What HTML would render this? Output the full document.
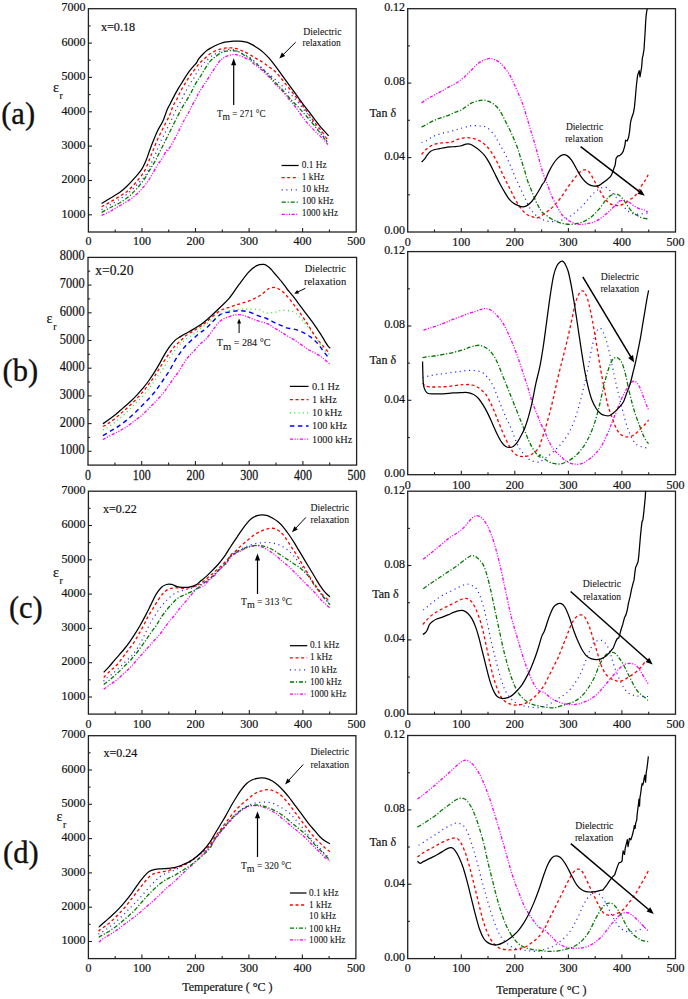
<!DOCTYPE html><html><head><meta charset="utf-8"><style>html,body{margin:0;padding:0;background:#fff;}svg{display:block;}text{font-family:'Liberation Serif', serif;fill:#111;stroke:#111;stroke-width:0.2px;}.tk{font-size:12px;}.lg{font-size:9.3px;stroke-width:0.08px;}.lg2{font-size:10.3px;stroke-width:0.08px;}.an{font-size:10.5px;stroke-width:0.08px;}.pl{font-size:30.5px;stroke-width:0.35px;}</style></head><body>
<svg width="688" height="999" viewBox="0 0 688 999">
<rect x="88.4" y="8.7" width="267.8" height="223.3" fill="none" stroke="#222" stroke-width="1.3"/>
<text x="88.4" y="245.3" text-anchor="middle" class="tk">0</text>
<line x1="115.2" y1="232.0" x2="115.2" y2="229.5" stroke="#222" stroke-width="1.1"/>
<line x1="142.0" y1="232.0" x2="142.0" y2="228.0" stroke="#222" stroke-width="1.1"/>
<text x="142.0" y="245.3" text-anchor="middle" class="tk">100</text>
<line x1="168.7" y1="232.0" x2="168.7" y2="229.5" stroke="#222" stroke-width="1.1"/>
<line x1="195.5" y1="232.0" x2="195.5" y2="228.0" stroke="#222" stroke-width="1.1"/>
<text x="195.5" y="245.3" text-anchor="middle" class="tk">200</text>
<line x1="222.3" y1="232.0" x2="222.3" y2="229.5" stroke="#222" stroke-width="1.1"/>
<line x1="249.1" y1="232.0" x2="249.1" y2="228.0" stroke="#222" stroke-width="1.1"/>
<text x="249.1" y="245.3" text-anchor="middle" class="tk">300</text>
<line x1="275.9" y1="232.0" x2="275.9" y2="229.5" stroke="#222" stroke-width="1.1"/>
<line x1="302.6" y1="232.0" x2="302.6" y2="228.0" stroke="#222" stroke-width="1.1"/>
<text x="302.6" y="245.3" text-anchor="middle" class="tk">400</text>
<line x1="329.4" y1="232.0" x2="329.4" y2="229.5" stroke="#222" stroke-width="1.1"/>
<text x="356.2" y="245.3" text-anchor="middle" class="tk">500</text>
<line x1="88.4" y1="214.8" x2="92.0" y2="214.8" stroke="#222" stroke-width="1.1"/>
<text x="85.6" y="217.5" text-anchor="end" class="tk">1000</text>
<line x1="88.4" y1="197.6" x2="90.6" y2="197.6" stroke="#222" stroke-width="1.1"/>
<line x1="88.4" y1="180.5" x2="92.0" y2="180.5" stroke="#222" stroke-width="1.1"/>
<text x="85.6" y="183.2" text-anchor="end" class="tk">2000</text>
<line x1="88.4" y1="163.3" x2="90.6" y2="163.3" stroke="#222" stroke-width="1.1"/>
<line x1="88.4" y1="146.1" x2="92.0" y2="146.1" stroke="#222" stroke-width="1.1"/>
<text x="85.6" y="148.8" text-anchor="end" class="tk">3000</text>
<line x1="88.4" y1="128.9" x2="90.6" y2="128.9" stroke="#222" stroke-width="1.1"/>
<line x1="88.4" y1="111.8" x2="92.0" y2="111.8" stroke="#222" stroke-width="1.1"/>
<text x="85.6" y="114.5" text-anchor="end" class="tk">4000</text>
<line x1="88.4" y1="94.6" x2="90.6" y2="94.6" stroke="#222" stroke-width="1.1"/>
<line x1="88.4" y1="77.4" x2="92.0" y2="77.4" stroke="#222" stroke-width="1.1"/>
<text x="85.6" y="80.1" text-anchor="end" class="tk">5000</text>
<line x1="88.4" y1="60.2" x2="90.6" y2="60.2" stroke="#222" stroke-width="1.1"/>
<line x1="88.4" y1="43.1" x2="92.0" y2="43.1" stroke="#222" stroke-width="1.1"/>
<text x="85.6" y="45.8" text-anchor="end" class="tk">6000</text>
<line x1="88.4" y1="25.9" x2="90.6" y2="25.9" stroke="#222" stroke-width="1.1"/>
<text x="85.6" y="11.4" text-anchor="end" class="tk">7000</text>
<rect x="88.0" y="257.4" width="268.6" height="207.7" fill="none" stroke="#222" stroke-width="1.3"/>
<text transform="translate(88.0,480.4) scale(1,1.26)" text-anchor="middle" class="tk">0</text>
<line x1="114.9" y1="465.1" x2="114.9" y2="462.6" stroke="#222" stroke-width="1.1"/>
<line x1="141.7" y1="465.1" x2="141.7" y2="461.1" stroke="#222" stroke-width="1.1"/>
<text transform="translate(141.7,480.4) scale(1,1.26)" text-anchor="middle" class="tk">100</text>
<line x1="168.6" y1="465.1" x2="168.6" y2="462.6" stroke="#222" stroke-width="1.1"/>
<line x1="195.4" y1="465.1" x2="195.4" y2="461.1" stroke="#222" stroke-width="1.1"/>
<text transform="translate(195.4,480.4) scale(1,1.26)" text-anchor="middle" class="tk">200</text>
<line x1="222.3" y1="465.1" x2="222.3" y2="462.6" stroke="#222" stroke-width="1.1"/>
<line x1="249.2" y1="465.1" x2="249.2" y2="461.1" stroke="#222" stroke-width="1.1"/>
<text transform="translate(249.2,480.4) scale(1,1.26)" text-anchor="middle" class="tk">300</text>
<line x1="276.0" y1="465.1" x2="276.0" y2="462.6" stroke="#222" stroke-width="1.1"/>
<line x1="302.9" y1="465.1" x2="302.9" y2="461.1" stroke="#222" stroke-width="1.1"/>
<text transform="translate(302.9,480.4) scale(1,1.26)" text-anchor="middle" class="tk">400</text>
<line x1="329.7" y1="465.1" x2="329.7" y2="462.6" stroke="#222" stroke-width="1.1"/>
<text transform="translate(356.6,480.4) scale(1,1.26)" text-anchor="middle" class="tk">500</text>
<line x1="88.0" y1="451.3" x2="91.6" y2="451.3" stroke="#222" stroke-width="1.1"/>
<text transform="translate(84.6,454.3) scale(1,1.2)" text-anchor="end" class="tk" style="font-size:12.4px">1000</text>
<line x1="88.0" y1="437.4" x2="90.2" y2="437.4" stroke="#222" stroke-width="1.1"/>
<line x1="88.0" y1="423.6" x2="91.6" y2="423.6" stroke="#222" stroke-width="1.1"/>
<text transform="translate(84.6,426.6) scale(1,1.2)" text-anchor="end" class="tk" style="font-size:12.4px">2000</text>
<line x1="88.0" y1="409.7" x2="90.2" y2="409.7" stroke="#222" stroke-width="1.1"/>
<line x1="88.0" y1="395.9" x2="91.6" y2="395.9" stroke="#222" stroke-width="1.1"/>
<text transform="translate(84.6,398.9) scale(1,1.2)" text-anchor="end" class="tk" style="font-size:12.4px">3000</text>
<line x1="88.0" y1="382.0" x2="90.2" y2="382.0" stroke="#222" stroke-width="1.1"/>
<line x1="88.0" y1="368.2" x2="91.6" y2="368.2" stroke="#222" stroke-width="1.1"/>
<text transform="translate(84.6,371.2) scale(1,1.2)" text-anchor="end" class="tk" style="font-size:12.4px">4000</text>
<line x1="88.0" y1="354.3" x2="90.2" y2="354.3" stroke="#222" stroke-width="1.1"/>
<line x1="88.0" y1="340.5" x2="91.6" y2="340.5" stroke="#222" stroke-width="1.1"/>
<text transform="translate(84.6,343.5) scale(1,1.2)" text-anchor="end" class="tk" style="font-size:12.4px">5000</text>
<line x1="88.0" y1="326.6" x2="90.2" y2="326.6" stroke="#222" stroke-width="1.1"/>
<line x1="88.0" y1="312.8" x2="91.6" y2="312.8" stroke="#222" stroke-width="1.1"/>
<text transform="translate(84.6,315.8) scale(1,1.2)" text-anchor="end" class="tk" style="font-size:12.4px">6000</text>
<line x1="88.0" y1="298.9" x2="90.2" y2="298.9" stroke="#222" stroke-width="1.1"/>
<line x1="88.0" y1="285.1" x2="91.6" y2="285.1" stroke="#222" stroke-width="1.1"/>
<text transform="translate(84.6,288.1) scale(1,1.2)" text-anchor="end" class="tk" style="font-size:12.4px">7000</text>
<line x1="88.0" y1="271.2" x2="90.2" y2="271.2" stroke="#222" stroke-width="1.1"/>
<text transform="translate(84.6,260.4) scale(1,1.2)" text-anchor="end" class="tk" style="font-size:12.4px">8000</text>
<rect x="88.4" y="491.2" width="268.1" height="222.9" fill="none" stroke="#222" stroke-width="1.3"/>
<text x="88.4" y="728.0" text-anchor="middle" class="tk">0</text>
<line x1="115.2" y1="714.1" x2="115.2" y2="711.6" stroke="#222" stroke-width="1.1"/>
<line x1="142.0" y1="714.1" x2="142.0" y2="710.1" stroke="#222" stroke-width="1.1"/>
<text x="142.0" y="728.0" text-anchor="middle" class="tk">100</text>
<line x1="168.8" y1="714.1" x2="168.8" y2="711.6" stroke="#222" stroke-width="1.1"/>
<line x1="195.6" y1="714.1" x2="195.6" y2="710.1" stroke="#222" stroke-width="1.1"/>
<text x="195.6" y="728.0" text-anchor="middle" class="tk">200</text>
<line x1="222.5" y1="714.1" x2="222.5" y2="711.6" stroke="#222" stroke-width="1.1"/>
<line x1="249.3" y1="714.1" x2="249.3" y2="710.1" stroke="#222" stroke-width="1.1"/>
<text x="249.3" y="728.0" text-anchor="middle" class="tk">300</text>
<line x1="276.1" y1="714.1" x2="276.1" y2="711.6" stroke="#222" stroke-width="1.1"/>
<line x1="302.9" y1="714.1" x2="302.9" y2="710.1" stroke="#222" stroke-width="1.1"/>
<text x="302.9" y="728.0" text-anchor="middle" class="tk">400</text>
<line x1="329.7" y1="714.1" x2="329.7" y2="711.6" stroke="#222" stroke-width="1.1"/>
<text x="356.5" y="728.0" text-anchor="middle" class="tk">500</text>
<line x1="88.4" y1="697.0" x2="92.0" y2="697.0" stroke="#222" stroke-width="1.1"/>
<text x="85.6" y="699.7" text-anchor="end" class="tk">1000</text>
<line x1="88.4" y1="679.8" x2="90.6" y2="679.8" stroke="#222" stroke-width="1.1"/>
<line x1="88.4" y1="662.7" x2="92.0" y2="662.7" stroke="#222" stroke-width="1.1"/>
<text x="85.6" y="665.4" text-anchor="end" class="tk">2000</text>
<line x1="88.4" y1="645.5" x2="90.6" y2="645.5" stroke="#222" stroke-width="1.1"/>
<line x1="88.4" y1="628.4" x2="92.0" y2="628.4" stroke="#222" stroke-width="1.1"/>
<text x="85.6" y="631.1" text-anchor="end" class="tk">3000</text>
<line x1="88.4" y1="611.2" x2="90.6" y2="611.2" stroke="#222" stroke-width="1.1"/>
<line x1="88.4" y1="594.1" x2="92.0" y2="594.1" stroke="#222" stroke-width="1.1"/>
<text x="85.6" y="596.8" text-anchor="end" class="tk">4000</text>
<line x1="88.4" y1="576.9" x2="90.6" y2="576.9" stroke="#222" stroke-width="1.1"/>
<line x1="88.4" y1="559.8" x2="92.0" y2="559.8" stroke="#222" stroke-width="1.1"/>
<text x="85.6" y="562.5" text-anchor="end" class="tk">5000</text>
<line x1="88.4" y1="542.6" x2="90.6" y2="542.6" stroke="#222" stroke-width="1.1"/>
<line x1="88.4" y1="525.5" x2="92.0" y2="525.5" stroke="#222" stroke-width="1.1"/>
<text x="85.6" y="528.2" text-anchor="end" class="tk">6000</text>
<line x1="88.4" y1="508.3" x2="90.6" y2="508.3" stroke="#222" stroke-width="1.1"/>
<text x="85.6" y="493.9" text-anchor="end" class="tk">7000</text>
<rect x="88.4" y="735.7" width="267.5" height="222.9" fill="none" stroke="#222" stroke-width="1.3"/>
<text x="88.4" y="972.4" text-anchor="middle" class="tk">0</text>
<line x1="115.2" y1="958.6" x2="115.2" y2="956.1" stroke="#222" stroke-width="1.1"/>
<line x1="141.9" y1="958.6" x2="141.9" y2="954.6" stroke="#222" stroke-width="1.1"/>
<text x="141.9" y="972.4" text-anchor="middle" class="tk">100</text>
<line x1="168.7" y1="958.6" x2="168.7" y2="956.1" stroke="#222" stroke-width="1.1"/>
<line x1="195.4" y1="958.6" x2="195.4" y2="954.6" stroke="#222" stroke-width="1.1"/>
<text x="195.4" y="972.4" text-anchor="middle" class="tk">200</text>
<line x1="222.2" y1="958.6" x2="222.2" y2="956.1" stroke="#222" stroke-width="1.1"/>
<line x1="248.9" y1="958.6" x2="248.9" y2="954.6" stroke="#222" stroke-width="1.1"/>
<text x="248.9" y="972.4" text-anchor="middle" class="tk">300</text>
<line x1="275.6" y1="958.6" x2="275.6" y2="956.1" stroke="#222" stroke-width="1.1"/>
<line x1="302.4" y1="958.6" x2="302.4" y2="954.6" stroke="#222" stroke-width="1.1"/>
<text x="302.4" y="972.4" text-anchor="middle" class="tk">400</text>
<line x1="329.1" y1="958.6" x2="329.1" y2="956.1" stroke="#222" stroke-width="1.1"/>
<text x="355.9" y="972.4" text-anchor="middle" class="tk">500</text>
<line x1="88.4" y1="941.5" x2="92.0" y2="941.5" stroke="#222" stroke-width="1.1"/>
<text x="85.6" y="944.2" text-anchor="end" class="tk">1000</text>
<line x1="88.4" y1="924.3" x2="90.6" y2="924.3" stroke="#222" stroke-width="1.1"/>
<line x1="88.4" y1="907.2" x2="92.0" y2="907.2" stroke="#222" stroke-width="1.1"/>
<text x="85.6" y="909.9" text-anchor="end" class="tk">2000</text>
<line x1="88.4" y1="890.0" x2="90.6" y2="890.0" stroke="#222" stroke-width="1.1"/>
<line x1="88.4" y1="872.9" x2="92.0" y2="872.9" stroke="#222" stroke-width="1.1"/>
<text x="85.6" y="875.6" text-anchor="end" class="tk">3000</text>
<line x1="88.4" y1="855.7" x2="90.6" y2="855.7" stroke="#222" stroke-width="1.1"/>
<line x1="88.4" y1="838.6" x2="92.0" y2="838.6" stroke="#222" stroke-width="1.1"/>
<text x="85.6" y="841.3" text-anchor="end" class="tk">4000</text>
<line x1="88.4" y1="821.4" x2="90.6" y2="821.4" stroke="#222" stroke-width="1.1"/>
<line x1="88.4" y1="804.3" x2="92.0" y2="804.3" stroke="#222" stroke-width="1.1"/>
<text x="85.6" y="807.0" text-anchor="end" class="tk">5000</text>
<line x1="88.4" y1="787.1" x2="90.6" y2="787.1" stroke="#222" stroke-width="1.1"/>
<line x1="88.4" y1="770.0" x2="92.0" y2="770.0" stroke="#222" stroke-width="1.1"/>
<text x="85.6" y="772.7" text-anchor="end" class="tk">6000</text>
<line x1="88.4" y1="752.8" x2="90.6" y2="752.8" stroke="#222" stroke-width="1.1"/>
<text x="85.6" y="738.4" text-anchor="end" class="tk">7000</text>
<rect x="407.7" y="8.7" width="267.8" height="223.3" fill="none" stroke="#222" stroke-width="1.3"/>
<text x="407.7" y="245.6" text-anchor="middle" class="tk">0</text>
<line x1="434.5" y1="232.0" x2="434.5" y2="229.5" stroke="#222" stroke-width="1.1"/>
<line x1="461.3" y1="232.0" x2="461.3" y2="228.0" stroke="#222" stroke-width="1.1"/>
<text x="461.3" y="245.6" text-anchor="middle" class="tk">100</text>
<line x1="488.0" y1="232.0" x2="488.0" y2="229.5" stroke="#222" stroke-width="1.1"/>
<line x1="514.8" y1="232.0" x2="514.8" y2="228.0" stroke="#222" stroke-width="1.1"/>
<text x="514.8" y="245.6" text-anchor="middle" class="tk">200</text>
<line x1="541.6" y1="232.0" x2="541.6" y2="229.5" stroke="#222" stroke-width="1.1"/>
<line x1="568.4" y1="232.0" x2="568.4" y2="228.0" stroke="#222" stroke-width="1.1"/>
<text x="568.4" y="245.6" text-anchor="middle" class="tk">300</text>
<line x1="595.2" y1="232.0" x2="595.2" y2="229.5" stroke="#222" stroke-width="1.1"/>
<line x1="621.9" y1="232.0" x2="621.9" y2="228.0" stroke="#222" stroke-width="1.1"/>
<text x="621.9" y="245.6" text-anchor="middle" class="tk">400</text>
<line x1="648.7" y1="232.0" x2="648.7" y2="229.5" stroke="#222" stroke-width="1.1"/>
<text x="675.5" y="245.6" text-anchor="middle" class="tk">500</text>
<text transform="translate(405.1,234.3) scale(1,1.08)" text-anchor="end" class="tk">0.00</text>
<line x1="407.7" y1="194.8" x2="409.9" y2="194.8" stroke="#222" stroke-width="1.1"/>
<line x1="407.7" y1="157.6" x2="411.3" y2="157.6" stroke="#222" stroke-width="1.1"/>
<text transform="translate(405.1,159.9) scale(1,1.08)" text-anchor="end" class="tk">0.04</text>
<line x1="407.7" y1="120.3" x2="409.9" y2="120.3" stroke="#222" stroke-width="1.1"/>
<line x1="407.7" y1="83.1" x2="411.3" y2="83.1" stroke="#222" stroke-width="1.1"/>
<text transform="translate(405.1,85.4) scale(1,1.08)" text-anchor="end" class="tk">0.08</text>
<line x1="407.7" y1="45.9" x2="409.9" y2="45.9" stroke="#222" stroke-width="1.1"/>
<text transform="translate(405.1,11.0) scale(1,1.08)" text-anchor="end" class="tk">0.12</text>
<rect x="407.7" y="251.6" width="267.8" height="223.1" fill="none" stroke="#222" stroke-width="1.3"/>
<text x="407.7" y="488.5" text-anchor="middle" class="tk">0</text>
<line x1="434.5" y1="474.7" x2="434.5" y2="472.2" stroke="#222" stroke-width="1.1"/>
<line x1="461.3" y1="474.7" x2="461.3" y2="470.7" stroke="#222" stroke-width="1.1"/>
<text x="461.3" y="488.5" text-anchor="middle" class="tk">100</text>
<line x1="488.0" y1="474.7" x2="488.0" y2="472.2" stroke="#222" stroke-width="1.1"/>
<line x1="514.8" y1="474.7" x2="514.8" y2="470.7" stroke="#222" stroke-width="1.1"/>
<text x="514.8" y="488.5" text-anchor="middle" class="tk">200</text>
<line x1="541.6" y1="474.7" x2="541.6" y2="472.2" stroke="#222" stroke-width="1.1"/>
<line x1="568.4" y1="474.7" x2="568.4" y2="470.7" stroke="#222" stroke-width="1.1"/>
<text x="568.4" y="488.5" text-anchor="middle" class="tk">300</text>
<line x1="595.2" y1="474.7" x2="595.2" y2="472.2" stroke="#222" stroke-width="1.1"/>
<line x1="621.9" y1="474.7" x2="621.9" y2="470.7" stroke="#222" stroke-width="1.1"/>
<text x="621.9" y="488.5" text-anchor="middle" class="tk">400</text>
<line x1="648.7" y1="474.7" x2="648.7" y2="472.2" stroke="#222" stroke-width="1.1"/>
<text x="675.5" y="488.5" text-anchor="middle" class="tk">500</text>
<text transform="translate(405.1,477.0) scale(1,1.08)" text-anchor="end" class="tk">0.00</text>
<line x1="407.7" y1="437.5" x2="409.9" y2="437.5" stroke="#222" stroke-width="1.1"/>
<line x1="407.7" y1="400.3" x2="411.3" y2="400.3" stroke="#222" stroke-width="1.1"/>
<text transform="translate(405.1,402.6) scale(1,1.08)" text-anchor="end" class="tk">0.04</text>
<line x1="407.7" y1="363.1" x2="409.9" y2="363.1" stroke="#222" stroke-width="1.1"/>
<line x1="407.7" y1="326.0" x2="411.3" y2="326.0" stroke="#222" stroke-width="1.1"/>
<text transform="translate(405.1,328.3) scale(1,1.08)" text-anchor="end" class="tk">0.08</text>
<line x1="407.7" y1="288.8" x2="409.9" y2="288.8" stroke="#222" stroke-width="1.1"/>
<text transform="translate(405.1,253.9) scale(1,1.08)" text-anchor="end" class="tk">0.12</text>
<rect x="407.7" y="491.2" width="267.8" height="223.0" fill="none" stroke="#222" stroke-width="1.3"/>
<text x="407.7" y="728.3" text-anchor="middle" class="tk">0</text>
<line x1="434.5" y1="714.2" x2="434.5" y2="711.7" stroke="#222" stroke-width="1.1"/>
<line x1="461.3" y1="714.2" x2="461.3" y2="710.2" stroke="#222" stroke-width="1.1"/>
<text x="461.3" y="728.3" text-anchor="middle" class="tk">100</text>
<line x1="488.0" y1="714.2" x2="488.0" y2="711.7" stroke="#222" stroke-width="1.1"/>
<line x1="514.8" y1="714.2" x2="514.8" y2="710.2" stroke="#222" stroke-width="1.1"/>
<text x="514.8" y="728.3" text-anchor="middle" class="tk">200</text>
<line x1="541.6" y1="714.2" x2="541.6" y2="711.7" stroke="#222" stroke-width="1.1"/>
<line x1="568.4" y1="714.2" x2="568.4" y2="710.2" stroke="#222" stroke-width="1.1"/>
<text x="568.4" y="728.3" text-anchor="middle" class="tk">300</text>
<line x1="595.2" y1="714.2" x2="595.2" y2="711.7" stroke="#222" stroke-width="1.1"/>
<line x1="621.9" y1="714.2" x2="621.9" y2="710.2" stroke="#222" stroke-width="1.1"/>
<text x="621.9" y="728.3" text-anchor="middle" class="tk">400</text>
<line x1="648.7" y1="714.2" x2="648.7" y2="711.7" stroke="#222" stroke-width="1.1"/>
<text x="675.5" y="728.3" text-anchor="middle" class="tk">500</text>
<text transform="translate(405.1,716.5) scale(1,1.08)" text-anchor="end" class="tk">0.00</text>
<line x1="407.7" y1="677.0" x2="409.9" y2="677.0" stroke="#222" stroke-width="1.1"/>
<line x1="407.7" y1="639.9" x2="411.3" y2="639.9" stroke="#222" stroke-width="1.1"/>
<text transform="translate(405.1,642.2) scale(1,1.08)" text-anchor="end" class="tk">0.04</text>
<line x1="407.7" y1="602.7" x2="409.9" y2="602.7" stroke="#222" stroke-width="1.1"/>
<line x1="407.7" y1="565.5" x2="411.3" y2="565.5" stroke="#222" stroke-width="1.1"/>
<text transform="translate(405.1,567.8) scale(1,1.08)" text-anchor="end" class="tk">0.08</text>
<line x1="407.7" y1="528.4" x2="409.9" y2="528.4" stroke="#222" stroke-width="1.1"/>
<text transform="translate(405.1,493.5) scale(1,1.08)" text-anchor="end" class="tk">0.12</text>
<rect x="407.7" y="735.5" width="267.8" height="223.1" fill="none" stroke="#222" stroke-width="1.3"/>
<text x="407.7" y="972.4" text-anchor="middle" class="tk">0</text>
<line x1="434.5" y1="958.6" x2="434.5" y2="956.1" stroke="#222" stroke-width="1.1"/>
<line x1="461.3" y1="958.6" x2="461.3" y2="954.6" stroke="#222" stroke-width="1.1"/>
<text x="461.3" y="972.4" text-anchor="middle" class="tk">100</text>
<line x1="488.0" y1="958.6" x2="488.0" y2="956.1" stroke="#222" stroke-width="1.1"/>
<line x1="514.8" y1="958.6" x2="514.8" y2="954.6" stroke="#222" stroke-width="1.1"/>
<text x="514.8" y="972.4" text-anchor="middle" class="tk">200</text>
<line x1="541.6" y1="958.6" x2="541.6" y2="956.1" stroke="#222" stroke-width="1.1"/>
<line x1="568.4" y1="958.6" x2="568.4" y2="954.6" stroke="#222" stroke-width="1.1"/>
<text x="568.4" y="972.4" text-anchor="middle" class="tk">300</text>
<line x1="595.2" y1="958.6" x2="595.2" y2="956.1" stroke="#222" stroke-width="1.1"/>
<line x1="621.9" y1="958.6" x2="621.9" y2="954.6" stroke="#222" stroke-width="1.1"/>
<text x="621.9" y="972.4" text-anchor="middle" class="tk">400</text>
<line x1="648.7" y1="958.6" x2="648.7" y2="956.1" stroke="#222" stroke-width="1.1"/>
<text x="675.5" y="972.4" text-anchor="middle" class="tk">500</text>
<text transform="translate(405.1,960.9) scale(1,1.08)" text-anchor="end" class="tk">0.00</text>
<line x1="407.7" y1="921.4" x2="409.9" y2="921.4" stroke="#222" stroke-width="1.1"/>
<line x1="407.7" y1="884.2" x2="411.3" y2="884.2" stroke="#222" stroke-width="1.1"/>
<text transform="translate(405.1,886.5) scale(1,1.08)" text-anchor="end" class="tk">0.04</text>
<line x1="407.7" y1="847.0" x2="409.9" y2="847.0" stroke="#222" stroke-width="1.1"/>
<line x1="407.7" y1="809.9" x2="411.3" y2="809.9" stroke="#222" stroke-width="1.1"/>
<text transform="translate(405.1,812.2) scale(1,1.08)" text-anchor="end" class="tk">0.08</text>
<line x1="407.7" y1="772.7" x2="409.9" y2="772.7" stroke="#222" stroke-width="1.1"/>
<text transform="translate(405.1,737.8) scale(1,1.08)" text-anchor="end" class="tk">0.12</text>
<text x="1.2" y="124.2" class="pl">(a)</text>
<text x="2.5" y="381.2" class="pl">(b)</text>
<text x="8.9" y="618.2" class="pl">(c)</text>
<text x="3.1" y="863.2" class="pl">(d)</text>
<text x="53" y="91.5" style="font-size:14px">&#949;</text>
<text x="59.6" y="98.5" style="font-size:9.5px">r</text>
<text x="46.6" y="322.5" style="font-size:14px">&#949;</text>
<text x="53.2" y="329.5" style="font-size:9.5px">r</text>
<text x="52.9" y="576.5" style="font-size:14px">&#949;</text>
<text x="59.5" y="583.5" style="font-size:9.5px">r</text>
<text x="56.4" y="820.5" style="font-size:14px">&#949;</text>
<text x="63.0" y="827.5" style="font-size:9.5px">r</text>
<text x="369.6" y="116.8" class="tk">Tan &#948;</text>
<text x="369.6" y="363.9" class="tk">Tan &#948;</text>
<text x="372.2" y="597.9" class="tk">Tan &#948;</text>
<text x="369.6" y="845.8" class="tk">Tan &#948;</text>
<text x="100.9" y="30.6" style="font-size:12.2px">x=0.18</text>
<text transform="translate(95.2,275.2) scale(1,1.15)" style="font-size:13.6px">x=0.20</text>
<text x="103" y="512.8" style="font-size:12px">x=0.22</text>
<text x="103.6" y="757.3" style="font-size:12px">x=0.24</text>
<text x="227.4" y="991" text-anchor="middle" class="tk">Temperature ( &#176;C )</text>
<text x="541.5" y="994" text-anchor="middle" class="tk">Temperature ( &#176;C )</text>
<path d="M101.61,215.27 C103.03,214.64 107.13,213.06 110.12,211.49 C113.11,209.91 116.42,207.71 119.57,205.82 C122.71,203.93 125.86,202.36 129.01,200.15 C132.16,197.95 135.31,195.74 138.46,192.59 C141.61,189.44 145.39,184.72 147.91,181.25 C150.43,177.79 152.00,174.48 153.58,171.81 C155.15,169.13 155.94,167.40 157.36,165.19 C158.78,162.99 160.51,161.10 162.08,158.58 C163.66,156.06 165.76,151.51 166.81,150.08 C167.85,148.65 166.75,152.39 168.34,150.00 C169.93,147.61 173.79,140.55 176.34,135.76 C178.88,130.96 181.42,125.34 183.60,121.22 C185.78,117.10 187.97,113.76 189.42,111.05 C190.87,108.33 191.39,106.67 192.31,104.93 C193.23,103.18 194.05,102.17 194.93,100.57 C195.80,98.97 196.70,96.93 197.54,95.34 C198.38,93.74 196.44,96.49 199.98,90.98 C203.52,85.46 215.06,67.55 218.77,62.26 C222.48,56.96 221.10,60.15 222.26,59.21 C223.42,58.26 224.58,57.24 225.75,56.59 C226.91,55.94 227.93,55.65 229.23,55.28 C230.54,54.92 232.28,54.48 233.59,54.41 C234.90,54.34 235.63,54.48 237.08,54.85 C238.53,55.21 240.71,55.94 242.31,56.59 C243.91,57.24 245.39,58.19 246.67,58.77 C247.95,59.35 248.91,59.33 249.98,60.08 C251.05,60.83 251.60,62.00 253.08,63.26 C254.57,64.51 256.96,66.04 258.90,67.62 C260.83,69.19 262.77,70.89 264.71,72.70 C266.65,74.52 268.59,76.46 270.52,78.52 C272.46,80.58 274.40,83.00 276.34,85.06 C278.28,87.12 280.21,88.69 282.15,90.87 C284.09,93.05 286.03,95.84 287.97,98.14 C289.90,100.44 291.84,102.26 293.78,104.68 C295.72,107.10 297.66,110.01 299.59,112.67 C301.53,115.34 303.47,118.25 305.41,120.67 C307.34,123.09 309.28,125.15 311.22,127.21 C313.16,129.27 315.10,131.09 317.03,133.02 C318.97,134.96 321.03,136.90 322.85,138.84 C324.67,140.78 327.09,143.68 327.94,144.65" fill="none" stroke="#ff00ff" stroke-width="1.3" stroke-dasharray="3.2 1.5 1.1 1.5 1.1 1.5"/>
<path d="M101.61,212.43 C103.03,211.65 107.13,209.28 110.12,207.71 C113.11,206.14 116.42,204.88 119.57,202.99 C122.71,201.10 126.18,198.73 129.01,196.37 C131.85,194.01 134.05,191.65 136.57,188.81 C139.09,185.98 141.93,182.51 144.13,179.37 C146.34,176.22 147.91,173.07 149.80,169.92 C151.69,166.77 153.58,163.93 155.47,160.47 C157.36,157.00 159.25,152.91 161.14,149.13 C163.03,145.35 164.92,141.57 166.81,137.79 C168.70,134.01 170.59,130.23 172.48,126.46 C174.37,122.68 176.44,118.41 178.14,115.12 C179.85,111.82 181.23,109.24 182.72,106.67 C184.21,104.10 185.63,102.17 187.08,99.69 C188.53,97.22 190.13,94.32 191.44,91.85 C192.75,89.38 193.91,86.76 194.93,84.87 C195.94,82.98 196.70,81.82 197.54,80.51 C198.38,79.21 198.19,79.85 199.98,77.03 C201.78,74.20 206.41,66.39 208.31,63.57 C210.20,60.74 210.34,61.10 211.36,60.08 C212.38,59.06 212.89,58.63 214.41,57.46 C215.94,56.30 218.77,54.12 220.51,53.10 C222.26,52.09 223.42,51.75 224.87,51.36 C226.33,50.97 227.78,50.85 229.23,50.75 C230.69,50.65 232.28,50.69 233.59,50.75 C234.90,50.81 235.92,50.75 237.08,51.10 C238.24,51.45 239.11,52.00 240.57,52.84 C242.02,53.68 244.23,55.24 245.80,56.16 C247.37,57.07 249.01,57.64 249.98,58.33 C250.95,59.03 250.38,59.29 251.63,60.35 C252.87,61.41 255.50,63.13 257.44,64.71 C259.38,66.28 261.32,67.98 263.26,69.80 C265.19,71.61 267.13,73.55 269.07,75.61 C271.01,77.67 272.95,80.09 274.88,82.15 C276.82,84.21 278.76,85.91 280.70,87.97 C282.64,90.02 284.57,92.33 286.51,94.51 C288.45,96.69 290.39,98.99 292.33,101.05 C294.26,103.11 296.20,104.80 298.14,106.86 C300.08,108.92 302.02,111.22 303.95,113.40 C305.89,115.58 307.83,117.64 309.77,119.94 C311.71,122.24 313.64,124.79 315.58,127.21 C317.52,129.63 319.34,131.81 321.40,134.48 C323.45,137.14 326.85,141.74 327.94,143.20" fill="none" stroke="#007a00" stroke-width="1.3" stroke-dasharray="4.2 1.8 1.2 1.8"/>
<path d="M101.61,209.60 C103.03,208.81 107.13,206.61 110.12,204.88 C113.11,203.14 116.42,201.25 119.57,199.21 C122.71,197.16 125.86,195.27 129.01,192.59 C132.16,189.92 135.63,186.14 138.46,183.14 C141.30,180.15 143.97,177.79 146.02,174.64 C148.07,171.49 149.17,167.71 150.74,164.25 C152.32,160.78 153.89,157.48 155.47,153.85 C157.04,150.23 158.46,146.30 160.19,142.52 C161.92,138.74 163.97,134.96 165.86,131.18 C167.75,127.40 169.81,123.49 171.53,119.84 C173.25,116.19 175.04,111.70 176.18,109.29 C177.32,106.87 177.63,106.60 178.36,105.36 C179.09,104.13 179.81,103.18 180.54,101.87 C181.27,100.57 182.07,98.90 182.72,97.52 C183.37,96.13 183.16,95.99 184.46,93.59 C185.77,91.19 189.19,85.38 190.57,83.13 C191.95,80.88 192.02,81.24 192.75,80.08 C193.47,78.92 194.27,77.32 194.93,76.16 C195.58,74.99 196.09,74.09 196.67,73.10 C197.25,72.12 197.27,71.82 198.41,70.23 C199.55,68.64 202.23,65.11 203.51,63.57 C204.80,62.02 204.89,62.11 206.13,60.95 C207.36,59.79 209.40,57.75 210.92,56.59 C212.45,55.43 213.68,54.85 215.28,53.98 C216.88,53.10 218.92,52.04 220.51,51.36 C222.11,50.68 223.13,50.21 224.87,49.88 C226.62,49.54 228.94,49.18 230.98,49.35 C233.01,49.53 234.90,50.08 237.08,50.92 C239.26,51.77 242.31,53.54 244.05,54.41 C245.80,55.28 246.28,55.41 247.54,56.16 C248.80,56.90 249.98,57.59 251.63,58.90 C253.28,60.20 255.50,62.29 257.44,63.98 C259.38,65.68 261.32,67.37 263.26,69.07 C265.19,70.77 267.13,72.46 269.07,74.16 C271.01,75.85 272.95,77.55 274.88,79.24 C276.82,80.94 278.76,82.51 280.70,84.33 C282.64,86.15 284.57,88.21 286.51,90.15 C288.45,92.08 290.39,93.90 292.33,95.96 C294.26,98.02 296.20,100.20 298.14,102.50 C300.08,104.80 302.02,107.34 303.95,109.77 C305.89,112.19 307.83,114.37 309.77,117.03 C311.71,119.70 313.64,123.09 315.58,125.76 C317.52,128.42 319.34,130.24 321.40,133.02 C323.45,135.81 326.85,140.90 327.94,142.47" fill="none" stroke="#2020ff" stroke-width="1.2" stroke-dasharray="1.1 3.6"/>
<path d="M101.61,206.76 C103.03,205.98 107.13,203.77 110.12,202.04 C113.11,200.31 116.42,198.42 119.57,196.37 C122.71,194.32 125.86,192.59 129.01,189.76 C132.16,186.92 135.78,182.67 138.46,179.37 C141.14,176.06 143.19,173.38 145.08,169.92 C146.97,166.45 148.38,162.04 149.80,158.58 C151.22,155.11 152.16,152.60 153.58,149.13 C155.00,145.67 156.57,141.57 158.30,137.79 C160.04,134.01 162.08,130.23 163.97,126.46 C165.86,122.68 168.11,118.56 169.64,115.12 C171.17,111.67 171.97,108.37 173.13,105.80 C174.29,103.23 175.60,101.66 176.62,99.69 C177.63,97.73 178.22,96.06 179.23,94.03 C180.25,91.99 181.56,89.52 182.72,87.49 C183.88,85.45 185.05,83.71 186.21,81.82 C187.37,79.93 188.46,77.97 189.69,76.16 C190.93,74.34 192.38,72.60 193.62,70.92 C194.85,69.25 195.96,67.57 197.11,66.13 C198.25,64.68 199.18,63.56 200.46,62.26 C201.75,60.96 203.37,59.64 204.82,58.33 C206.27,57.03 207.73,55.50 209.18,54.41 C210.63,53.32 211.94,52.60 213.54,51.80 C215.14,51.00 216.88,50.23 218.77,49.62 C220.66,49.01 222.84,48.42 224.87,48.13 C226.91,47.84 228.94,47.77 230.98,47.87 C233.01,47.97 235.19,48.24 237.08,48.74 C238.97,49.25 240.71,50.24 242.31,50.92 C243.91,51.61 244.63,51.76 246.67,52.84 C248.71,53.93 252.01,55.95 254.53,57.44 C257.06,58.94 259.38,60.23 261.80,61.80 C264.22,63.38 266.89,65.31 269.07,66.89 C271.25,68.46 272.95,69.43 274.88,71.25 C276.82,73.07 278.76,75.49 280.70,77.79 C282.64,80.09 284.57,82.64 286.51,85.06 C288.45,87.48 290.39,89.90 292.33,92.33 C294.26,94.75 296.20,97.05 298.14,99.59 C300.08,102.14 302.02,104.92 303.95,107.59 C305.89,110.25 307.83,112.92 309.77,115.58 C311.71,118.25 313.64,121.03 315.58,123.58 C317.52,126.12 319.34,128.06 321.40,130.84 C323.45,133.63 326.85,138.72 327.94,140.29" fill="none" stroke="#ff0000" stroke-width="1.3" stroke-dasharray="3 2.6"/>
<path d="M101.61,203.55 C103.03,202.67 107.13,200.09 110.12,198.26 C113.11,196.43 116.73,194.64 119.57,192.59 C122.40,190.55 124.60,188.44 127.12,185.98 C129.64,183.52 132.32,180.53 134.68,177.85 C137.04,175.18 139.41,172.81 141.30,169.92 C143.19,167.02 144.60,163.78 146.02,160.47 C147.44,157.16 148.70,153.07 149.80,150.08 C150.90,147.08 151.37,145.67 152.63,142.52 C153.89,139.37 155.63,134.80 157.36,131.18 C159.09,127.56 161.42,124.32 163.03,120.79 C164.64,117.25 165.78,112.92 167.03,109.98 C168.27,107.05 169.28,105.62 170.51,103.18 C171.75,100.74 173.13,97.81 174.44,95.34 C175.75,92.87 176.98,90.69 178.36,88.36 C179.74,86.04 181.12,83.93 182.72,81.39 C184.32,78.84 186.21,75.57 187.95,73.10 C189.69,70.63 191.73,68.31 193.18,66.56 C194.64,64.82 195.75,63.94 196.67,62.64 C197.59,61.34 197.65,60.22 198.72,58.77 C199.79,57.33 201.62,55.43 203.08,53.98 C204.53,52.52 205.98,51.14 207.44,50.05 C208.89,48.96 210.34,48.24 211.80,47.44 C213.25,46.64 214.70,45.91 216.16,45.26 C217.61,44.60 219.06,44.02 220.51,43.51 C221.97,43.00 223.42,42.54 224.87,42.21 C226.33,41.87 227.78,41.68 229.23,41.51 C230.69,41.33 232.14,41.22 233.59,41.16 C235.05,41.10 236.50,41.13 237.95,41.16 C239.40,41.19 240.86,41.16 242.31,41.33 C243.76,41.51 245.12,41.70 246.67,42.21 C248.22,42.71 249.83,43.40 251.63,44.36 C253.42,45.33 255.50,46.66 257.44,47.99 C259.38,49.33 261.32,50.66 263.26,52.35 C265.19,54.05 267.13,55.99 269.07,58.17 C271.01,60.35 272.95,62.89 274.88,65.44 C276.82,67.98 278.76,70.77 280.70,73.43 C282.64,76.09 284.57,78.76 286.51,81.42 C288.45,84.09 290.39,86.75 292.33,89.42 C294.26,92.08 296.20,94.75 298.14,97.41 C300.08,100.08 302.02,102.86 303.95,105.41 C305.89,107.95 307.83,110.13 309.77,112.67 C311.71,115.22 313.64,118.12 315.58,120.67 C317.52,123.21 319.22,125.39 321.40,127.94 C323.58,130.48 327.45,134.60 328.66,135.93" fill="none" stroke="#000" stroke-width="1.25"/>
<line x1="281.6" y1="165.5" x2="298.6" y2="165.5" stroke="#000" stroke-width="1.25"/>
<text x="301.8" y="167.6" class="lg">0.1 Hz</text>
<line x1="281.6" y1="177.7" x2="298.6" y2="177.7" stroke="#ff0000" stroke-width="1.3" stroke-dasharray="3 2.6"/>
<text x="301.8" y="179.8" class="lg">1 kHz</text>
<line x1="281.6" y1="189.9" x2="298.6" y2="189.9" stroke="#2020ff" stroke-width="1.2" stroke-dasharray="1.1 3.6"/>
<text x="301.8" y="192.0" class="lg">10 kHz</text>
<line x1="281.6" y1="202.1" x2="298.6" y2="202.1" stroke="#007a00" stroke-width="1.3" stroke-dasharray="4.2 1.8 1.2 1.8"/>
<text x="301.8" y="204.2" class="lg">100 kHz</text>
<line x1="281.6" y1="214.3" x2="298.6" y2="214.3" stroke="#ff00ff" stroke-width="1.3" stroke-dasharray="3.2 1.5 1.1 1.5 1.1 1.5"/>
<text x="301.8" y="216.4" class="lg">1000 kHz</text>
<line x1="233.7" y1="105.0" x2="233.7" y2="64.3" stroke="#000" stroke-width="1.2"/>
<path d="M233.7,58.3 L236.3,65.3 L231.1,65.3 Z" fill="#000"/>
<text x="217" y="116.5" class="an" textLength="48.6" lengthAdjust="spacingAndGlyphs">T<tspan dy="3.6" style="font-size:11px">m</tspan><tspan dy="-3.6"> = 271 &#176;C</tspan></text>
<text x="303.3" y="34.5" class="an" textLength="38.3" lengthAdjust="spacingAndGlyphs">Dielectric</text>
<text x="302.5" y="46" class="an" textLength="38.3" lengthAdjust="spacingAndGlyphs">relaxation</text>
<line x1="295.7" y1="42.2" x2="282.8" y2="55.0" stroke="#000" stroke-width="1.0"/>
<path d="M279.3,58.5 L281.9,52.6 L285.2,55.9 Z" fill="#000"/>
<path d="M421.61,102.91 C422.40,102.37 424.61,100.80 426.34,99.70 C428.07,98.60 430.12,97.40 432.01,96.30 C433.90,95.19 435.79,94.09 437.68,93.08 C439.57,92.08 441.46,91.29 443.34,90.25 C445.23,89.21 447.12,87.89 449.01,86.85 C450.90,85.81 452.79,85.12 454.68,84.01 C456.57,82.91 458.62,81.49 460.35,80.23 C462.08,78.97 463.50,77.87 465.08,76.46 C466.65,75.04 468.07,73.46 469.80,71.73 C471.53,70.00 473.58,67.79 475.47,66.06 C477.36,64.33 479.25,62.50 481.14,61.34 C483.03,60.17 485.23,59.54 486.81,59.07 C488.38,58.60 489.17,58.38 490.59,58.50 C492.00,58.63 493.74,59.10 495.31,59.83 C496.88,60.55 498.46,61.50 500.03,62.85 C501.61,64.20 503.18,66.00 504.76,67.95 C506.33,69.90 508.07,72.20 509.48,74.57 C510.90,76.93 512.00,79.45 513.26,82.12 C514.52,84.80 515.78,87.79 517.04,90.63 C518.30,93.46 519.72,96.45 520.82,99.13 C521.92,101.81 522.71,103.85 523.65,106.69 C524.60,109.52 525.54,112.99 526.49,116.14 C527.43,119.29 528.38,122.44 529.32,125.59 C530.27,128.74 531.21,131.88 532.16,135.03 C533.10,138.18 534.05,141.18 534.99,144.48 C535.94,147.79 536.88,151.41 537.83,154.88 C538.77,158.34 539.72,161.96 540.66,165.27 C541.61,168.58 542.48,171.82 543.50,174.72 C544.51,177.61 545.46,179.24 546.76,182.63 C548.05,186.01 549.58,191.08 551.27,195.02 C552.96,198.96 555.02,202.91 556.90,206.29 C558.78,209.67 560.47,212.86 562.53,215.30 C564.60,217.74 567.04,219.51 569.29,220.93 C571.55,222.36 573.80,223.30 576.05,223.86 C578.31,224.43 580.56,224.43 582.81,224.31 C585.07,224.20 587.32,223.75 589.57,223.19 C591.83,222.62 594.08,222.06 596.33,220.93 C598.58,219.81 600.84,218.12 603.09,216.43 C605.34,214.74 607.60,212.86 609.85,210.79 C612.10,208.73 614.73,205.72 616.61,204.03 C618.49,202.34 619.62,201.22 621.12,200.65 C622.62,200.09 624.12,200.28 625.62,200.65 C627.13,201.03 628.63,201.97 630.13,202.91 C631.63,203.85 633.14,205.35 634.64,206.29 C636.14,207.23 637.64,207.98 639.14,208.54 C640.65,209.10 642.22,209.10 643.65,209.67 C645.08,210.23 647.03,211.55 647.71,211.92" fill="none" stroke="#ff00ff" stroke-width="1.3" stroke-dasharray="3.2 1.5 1.1 1.5 1.1 1.5"/>
<path d="M421.61,127.10 C422.40,126.69 424.61,125.59 426.34,124.64 C428.07,123.70 430.12,122.37 432.01,121.43 C433.90,120.48 435.79,119.70 437.68,118.97 C439.57,118.25 441.46,117.71 443.34,117.08 C445.23,116.45 447.12,115.98 449.01,115.19 C450.90,114.41 452.79,113.15 454.68,112.36 C456.57,111.57 458.46,111.41 460.35,110.47 C462.24,109.52 464.13,107.95 466.02,106.69 C467.91,105.43 469.80,103.85 471.69,102.91 C473.58,101.97 475.47,101.49 477.36,101.02 C479.25,100.55 481.14,100.01 483.03,100.08 C484.92,100.14 486.81,100.61 488.70,101.40 C490.59,102.19 492.63,103.45 494.37,104.80 C496.10,106.15 497.67,107.63 499.09,109.52 C500.51,111.41 501.61,113.78 502.87,116.14 C504.13,118.50 505.39,121.18 506.65,123.70 C507.91,126.22 509.17,128.58 510.43,131.25 C511.69,133.93 512.95,136.77 514.21,139.76 C515.47,142.75 516.88,146.06 517.99,149.21 C519.09,152.36 519.78,155.35 520.82,158.65 C521.86,161.96 523.12,165.43 524.22,169.05 C525.32,172.67 526.27,176.92 527.43,180.39 C528.60,183.85 529.95,186.68 531.21,189.83 C532.47,192.98 533.73,196.45 534.99,199.28 C536.25,202.12 537.51,204.64 538.77,206.84 C540.03,209.05 540.47,210.54 542.55,212.51 C544.63,214.48 548.69,217.09 551.27,218.68 C553.85,220.27 555.77,221.20 558.03,222.06 C560.28,222.92 562.53,223.49 564.79,223.86 C567.04,224.24 569.29,224.43 571.55,224.31 C573.80,224.20 576.05,223.75 578.31,223.19 C580.56,222.62 582.81,222.06 585.07,220.93 C587.32,219.81 589.57,218.30 591.83,216.43 C594.08,214.55 596.33,212.30 598.58,209.67 C600.84,207.04 603.47,202.91 605.34,200.65 C607.22,198.40 608.35,197.24 609.85,196.15 C611.35,195.06 612.86,194.31 614.36,194.12 C615.86,193.93 617.36,194.12 618.86,195.02 C620.37,195.92 621.87,197.65 623.37,199.53 C624.87,201.41 626.38,204.22 627.88,206.29 C629.38,208.35 630.88,210.42 632.38,211.92 C633.89,213.42 635.39,214.36 636.89,215.30 C638.39,216.24 639.89,216.99 641.40,217.55 C642.90,218.12 644.78,218.49 645.90,218.68 C647.03,218.87 647.78,218.68 648.16,218.68" fill="none" stroke="#007a00" stroke-width="1.3" stroke-dasharray="4.2 1.8 1.2 1.8"/>
<path d="M421.61,142.59 C422.56,142.21 425.39,141.33 427.28,140.33 C429.17,139.32 430.90,137.59 432.95,136.55 C435.00,135.51 437.20,134.81 439.57,134.09 C441.93,133.36 444.60,132.83 447.12,132.20 C449.64,131.57 452.48,130.94 454.68,130.31 C456.89,129.68 458.15,129.05 460.35,128.42 C462.56,127.79 466.02,127.00 467.91,126.53 C469.80,126.06 469.80,125.68 471.69,125.59 C473.58,125.49 476.73,125.65 479.25,125.96 C481.77,126.28 484.29,125.96 486.81,127.48 C489.33,128.99 492.48,132.67 494.37,135.03 C496.25,137.40 496.88,139.44 498.14,141.65 C499.40,143.85 500.66,146.06 501.92,148.26 C503.18,150.47 504.54,152.51 505.70,154.88 C506.87,157.24 507.81,159.91 508.92,162.43 C510.02,164.95 511.28,167.47 512.32,169.99 C513.36,172.51 514.05,175.03 515.15,177.55 C516.25,180.07 517.67,182.43 518.93,185.11 C520.19,187.79 521.61,191.25 522.71,193.61 C523.81,195.98 524.28,196.76 525.54,199.28 C526.80,201.80 528.69,206.21 530.27,208.73 C531.84,211.25 533.42,212.82 534.99,214.40 C536.57,215.97 538.88,217.46 539.72,218.18 C540.55,218.89 538.83,218.22 540.00,218.68 C541.17,219.14 544.51,220.45 546.76,220.93 C549.01,221.42 550.89,221.80 553.52,221.61 C556.15,221.42 559.53,220.86 562.53,219.81 C565.54,218.76 568.92,216.99 571.55,215.30 C574.17,213.61 576.05,211.73 578.31,209.67 C580.56,207.60 582.81,205.35 585.07,202.91 C587.32,200.47 589.57,197.27 591.83,195.02 C594.08,192.77 596.33,190.70 598.58,189.39 C600.84,188.07 603.47,186.95 605.34,187.13 C607.22,187.32 608.35,189.20 609.85,190.51 C611.35,191.83 612.86,193.33 614.36,195.02 C615.86,196.71 617.36,198.78 618.86,200.65 C620.37,202.53 621.87,204.60 623.37,206.29 C624.87,207.98 626.38,209.59 627.88,210.79 C629.38,212.00 630.51,212.93 632.38,213.50 C634.26,214.06 637.27,214.17 639.14,214.17 C641.02,214.17 642.22,213.69 643.65,213.50 C645.08,213.31 647.03,213.12 647.71,213.05" fill="none" stroke="#2020ff" stroke-width="1.2" stroke-dasharray="1.1 3.6"/>
<path d="M421.61,154.50 C422.24,153.77 423.98,151.51 425.39,150.15 C426.81,148.80 428.38,147.41 430.12,146.37 C431.85,145.33 433.90,144.48 435.79,143.92 C437.68,143.35 439.57,143.19 441.46,142.97 C443.34,142.75 445.23,142.81 447.12,142.59 C449.01,142.37 450.90,142.21 452.79,141.65 C454.68,141.08 456.57,139.82 458.46,139.19 C460.35,138.56 462.24,138.09 464.13,137.87 C466.02,137.65 467.91,137.65 469.80,137.87 C471.69,138.09 473.58,138.56 475.47,139.19 C477.36,139.82 479.41,140.61 481.14,141.65 C482.87,142.69 484.29,143.85 485.86,145.43 C487.44,147.00 489.01,148.89 490.59,151.10 C492.16,153.30 493.89,156.14 495.31,158.65 C496.73,161.17 497.83,163.54 499.09,166.21 C500.35,168.89 501.61,172.04 502.87,174.72 C504.13,177.39 505.39,179.76 506.65,182.28 C507.91,184.79 509.17,187.31 510.43,189.83 C511.69,192.35 512.95,195.03 514.21,197.39 C515.47,199.75 516.57,201.80 517.99,204.01 C519.40,206.21 521.14,208.82 522.71,210.62 C524.28,212.41 525.86,213.77 527.43,214.78 C529.01,215.78 530.43,216.19 532.16,216.67 C533.89,217.14 535.39,218.40 537.83,217.61 C540.26,216.82 544.14,213.81 546.76,211.92 C549.38,210.03 551.27,208.54 553.52,206.29 C555.77,204.03 558.03,201.41 560.28,198.40 C562.53,195.40 564.79,191.45 567.04,188.26 C569.29,185.07 571.73,181.88 573.80,179.25 C575.86,176.62 577.55,174.07 579.43,172.49 C581.31,170.91 583.38,169.78 585.07,169.78 C586.76,169.78 588.07,170.72 589.57,172.49 C591.07,174.25 592.58,177.75 594.08,180.37 C595.58,183.00 597.08,185.63 598.58,188.26 C600.09,190.89 601.59,193.89 603.09,196.15 C604.59,198.40 606.10,200.35 607.60,201.78 C609.10,203.21 610.41,204.07 612.10,204.71 C613.79,205.35 615.86,205.72 617.74,205.61 C619.62,205.50 621.31,205.05 623.37,204.03 C625.44,203.02 628.07,201.03 630.13,199.53 C632.20,198.03 633.89,197.27 635.76,195.02 C637.64,192.77 639.71,188.64 641.40,186.01 C643.09,183.38 644.78,181.13 645.90,179.25 C647.03,177.37 647.78,175.49 648.16,174.74" fill="none" stroke="#ff0000" stroke-width="1.3" stroke-dasharray="3 2.6"/>
<path d="M421.61,162.06 C422.09,161.58 423.50,160.42 424.45,159.22 C425.39,158.02 426.34,156.14 427.28,154.88 C428.23,153.62 429.01,152.51 430.12,151.66 C431.22,150.81 432.32,150.28 433.90,149.77 C435.47,149.27 437.68,149.02 439.57,148.64 C441.46,148.26 443.03,147.82 445.23,147.51 C447.44,147.19 450.27,147.00 452.79,146.75 C455.31,146.50 458.15,146.43 460.35,145.99 C462.56,145.55 464.45,144.42 466.02,144.10 C467.60,143.79 468.54,143.79 469.80,144.10 C471.06,144.42 472.00,144.99 473.58,145.99 C475.15,147.00 477.36,148.51 479.25,150.15 C481.14,151.79 483.18,153.62 484.92,155.82 C486.65,158.02 488.07,160.54 489.64,163.38 C491.22,166.21 492.79,169.68 494.37,172.83 C495.94,175.98 497.51,179.28 499.09,182.28 C500.66,185.27 502.24,188.10 503.81,190.78 C505.39,193.46 506.96,196.29 508.54,198.34 C510.11,200.38 511.53,201.80 513.26,203.06 C514.99,204.32 517.36,205.27 518.93,205.90 C520.51,206.53 521.45,206.84 522.71,206.84 C523.97,206.84 525.23,206.53 526.49,205.90 C527.75,205.27 529.01,204.32 530.27,203.06 C531.53,201.80 532.63,200.38 534.05,198.34 C535.46,196.29 537.35,193.14 538.77,190.78 C540.19,188.42 541.60,185.71 542.55,184.16 C543.51,182.62 543.43,183.64 544.51,181.50 C545.58,179.37 547.51,174.37 549.01,171.36 C550.52,168.36 552.02,165.73 553.52,163.48 C555.02,161.22 556.52,159.27 558.03,157.84 C559.53,156.42 561.03,155.29 562.53,154.91 C564.03,154.54 565.54,154.73 567.04,155.59 C568.54,156.45 570.04,158.03 571.55,160.10 C573.05,162.16 574.55,165.35 576.05,167.98 C577.55,170.61 579.06,173.62 580.56,175.87 C582.06,178.12 583.56,180.00 585.07,181.50 C586.57,183.00 588.07,184.13 589.57,184.88 C591.07,185.63 592.58,185.90 594.08,186.01 C595.58,186.12 597.08,186.12 598.58,185.56 C600.09,184.99 601.59,183.68 603.09,182.63 C604.59,181.58 606.28,180.37 607.60,179.25 C608.91,178.12 610.04,177.37 610.98,175.87 C611.92,174.37 612.53,172.07 613.23,170.24 C613.93,168.40 614.87,165.74 615.20,164.84 L616.00,158.60 L617.60,156.20 L620.00,155.40 L621.60,153.80 L623.20,151.40 L624.80,145.80 L625.60,140.20 L627.20,141.00 L628.48,137.80 L629.60,131.40 L630.40,123.40 L631.20,119.40 L632.00,117.00 L633.60,112.20 L634.40,107.40 L635.20,99.40 L636.00,89.80 L636.80,81.80 L637.60,75.40 L638.40,73.00 L639.20,70.60 L640.00,77.00 L640.80,72.20 L641.60,67.40 L642.40,57.80 L643.20,54.60 L643.52,52.20 L644.00,49.80 L644.48,41.80 L645.12,32.20 L645.60,22.60 L646.08,16.20 L646.72,11.40 L647.20,9.00" fill="none" stroke-linejoin="round" stroke="#000" stroke-width="1.25"/>
<text x="565.9" y="129.5" class="an" textLength="37.2" lengthAdjust="spacingAndGlyphs">Dielectric</text>
<text x="565.2" y="141.5" class="an" textLength="37.8" lengthAdjust="spacingAndGlyphs">relaxation</text>
<line x1="580.6" y1="146.6" x2="640.0" y2="192.1" stroke="#000" stroke-width="1.5"/>
<path d="M644.8,195.7 L637.5,193.7 L640.9,189.2 Z" fill="#000"/>
<path d="M102.91,439.50 C105.96,437.90 116.96,432.27 121.16,429.95 C125.37,427.63 125.82,427.19 128.14,425.59 C130.47,423.99 132.79,422.10 135.12,420.36 C137.44,418.61 139.77,417.16 142.10,415.12 C144.42,413.09 146.75,410.47 149.07,408.15 C151.40,405.82 153.72,403.64 156.05,401.17 C158.38,398.70 160.99,395.79 163.03,393.32 C165.06,390.85 166.52,388.81 168.26,386.34 C170.00,383.87 171.75,380.96 173.49,378.49 C175.24,376.02 176.98,374.13 178.73,371.52 C180.47,368.90 182.21,365.41 183.96,362.79 C185.70,360.18 187.45,357.85 189.19,355.82 C190.94,353.78 192.68,352.47 194.42,350.58 C196.17,348.69 197.62,346.51 199.66,344.48 C201.69,342.44 203.33,342.16 206.63,338.37 C209.94,334.59 215.70,325.38 219.48,321.76 C223.25,318.14 226.34,317.83 229.29,316.65 C232.23,315.48 234.52,314.82 237.14,314.69 C239.75,314.56 242.04,315.02 244.99,315.87 C247.93,316.72 251.09,318.49 254.80,319.79 C258.50,321.09 264.14,322.42 267.21,323.67 C270.28,324.91 271.21,326.07 273.21,327.27 C275.22,328.47 277.42,329.77 279.22,330.87 C281.02,331.97 282.22,332.78 284.02,333.88 C285.83,334.98 288.03,336.28 290.03,337.48 C292.03,338.68 294.03,339.78 296.04,341.08 C298.04,342.39 300.04,343.89 302.04,345.29 C304.04,346.69 306.05,348.29 308.05,349.49 C310.05,350.69 312.05,351.39 314.05,352.50 C316.06,353.60 318.26,354.90 320.06,356.10 C321.86,357.30 323.26,358.40 324.86,359.70 C326.47,361.00 328.87,363.21 329.67,363.91" fill="none" stroke="#ff00ff" stroke-width="1.3" stroke-dasharray="3.2 1.5 1.1 1.5 1.1 1.5"/>
<path d="M102.91,435.57 C104.50,434.63 109.69,431.61 112.44,429.95 C115.19,428.29 117.09,427.19 119.42,425.59 C121.75,423.99 124.07,422.25 126.40,420.36 C128.72,418.47 131.05,416.43 133.37,414.25 C135.70,412.07 138.03,409.60 140.35,407.27 C142.68,404.95 145.00,402.77 147.33,400.30 C149.65,397.83 152.27,394.92 154.31,392.45 C156.34,389.98 157.79,387.94 159.54,385.47 C161.28,383.00 163.03,380.24 164.77,377.62 C166.52,375.00 168.26,372.68 170.00,369.77 C171.75,366.86 173.49,363.09 175.24,360.18 C176.98,357.27 178.73,354.74 180.47,352.33 C182.21,349.92 183.67,347.88 185.70,345.70 C187.74,343.52 190.35,341.34 192.68,339.25 C195.01,337.15 197.33,335.03 199.66,333.14 C201.98,331.25 203.33,330.92 206.63,327.91 C209.94,324.90 215.70,317.75 219.48,315.08 C223.25,312.42 226.02,312.66 229.29,311.95 C232.56,311.23 235.83,310.77 239.10,310.77 C242.37,310.77 245.64,311.09 248.91,311.95 C252.18,312.80 255.87,314.82 258.72,315.87 C261.57,316.92 263.79,317.36 266.01,318.26 C268.22,319.16 270.21,320.36 272.01,321.26 C273.81,322.17 275.22,322.93 276.82,323.67 C278.42,324.41 280.02,325.01 281.62,325.71 C283.22,326.41 284.82,327.37 286.43,327.87 C288.03,328.37 289.63,328.41 291.23,328.71 C292.83,329.01 294.43,329.21 296.04,329.67 C297.64,330.13 299.24,330.77 300.84,331.47 C302.44,332.18 304.04,332.98 305.65,333.88 C307.25,334.78 309.05,335.88 310.45,336.88 C311.85,337.88 312.85,338.78 314.05,339.88 C315.26,340.98 316.46,342.09 317.66,343.49 C318.86,344.89 320.06,346.69 321.26,348.29 C322.46,349.89 323.46,351.29 324.86,353.10 C326.27,354.90 328.87,358.10 329.67,359.10" fill="none" stroke="#0000ff" stroke-width="1.4" stroke-dasharray="4.5 3.5"/>
<path d="M102.91,429.68 C103.34,429.58 103.88,429.99 105.47,429.08 C107.05,428.16 110.12,425.94 112.44,424.19 C114.77,422.45 117.09,420.56 119.42,418.61 C121.75,416.66 124.07,414.69 126.40,412.51 C128.72,410.33 131.05,407.86 133.37,405.53 C135.70,403.20 138.03,401.02 140.35,398.55 C142.68,396.08 145.29,393.17 147.33,390.70 C149.36,388.23 150.82,386.20 152.56,383.73 C154.31,381.25 156.05,378.35 157.79,375.88 C159.54,373.41 161.28,371.52 163.03,368.90 C164.77,366.28 166.52,362.94 168.26,360.18 C170.00,357.42 171.75,354.74 173.49,352.33 C175.24,349.92 176.98,347.59 178.73,345.70 C180.47,343.81 181.92,342.65 183.96,340.99 C185.99,339.33 188.61,337.36 190.94,335.76 C193.26,334.16 195.59,333.14 197.91,331.40 C200.24,329.65 200.97,328.21 204.89,325.29 C208.81,322.38 217.04,316.46 221.44,313.91 C225.83,311.36 227.98,310.77 231.25,309.98 C234.52,309.20 237.79,309.33 241.06,309.20 C244.33,309.07 247.60,309.07 250.87,309.20 C254.14,309.33 258.36,309.37 260.68,309.98 C263.01,310.59 262.52,312.44 264.80,312.86 C267.09,313.27 271.71,312.90 274.41,312.50 C277.12,312.10 277.92,310.59 281.02,310.45 C284.12,310.31 289.93,310.55 293.03,311.65 C296.14,312.76 297.74,315.26 299.64,317.06 C301.54,318.86 303.24,321.06 304.44,322.47 C305.65,323.87 306.05,324.47 306.85,325.47 C307.65,326.47 308.45,327.47 309.25,328.47 C310.05,329.47 310.85,330.37 311.65,331.47 C312.45,332.58 313.05,333.68 314.05,335.08 C315.06,336.48 316.46,338.08 317.66,339.88 C318.86,341.68 319.86,343.89 321.26,345.89 C322.66,347.89 324.66,350.49 326.07,351.89 C327.47,353.30 329.07,353.90 329.67,354.30" fill="none" stroke="#22ee22" stroke-width="1.2" stroke-dasharray="1.1 3.2"/>
<path d="M102.91,426.54 C103.92,425.95 106.78,424.44 108.95,422.97 C111.12,421.50 113.61,419.63 115.93,417.74 C118.26,415.85 120.58,413.67 122.91,411.63 C125.23,409.60 127.56,407.71 129.89,405.53 C132.21,403.35 134.54,401.02 136.86,398.55 C139.19,396.08 141.81,393.17 143.84,390.70 C145.88,388.23 147.33,386.05 149.07,383.73 C150.82,381.40 152.56,379.37 154.31,376.75 C156.05,374.13 157.79,370.79 159.54,368.03 C161.28,365.27 163.03,362.79 164.77,360.18 C166.52,357.56 168.26,354.74 170.00,352.33 C171.75,349.92 173.49,347.59 175.24,345.70 C176.98,343.81 178.73,342.65 180.47,340.99 C182.21,339.33 183.67,337.36 185.70,335.76 C187.74,334.16 190.35,332.85 192.68,331.40 C195.01,329.94 197.33,328.64 199.66,327.04 C201.98,325.44 203.33,324.45 206.63,321.80 C209.94,319.16 215.70,313.59 219.48,311.16 C223.25,308.73 226.02,308.41 229.29,307.24 C232.56,306.06 235.83,305.14 239.10,304.10 C242.37,303.05 245.64,302.26 248.91,300.96 C252.18,299.65 256.07,297.77 258.72,296.25 C261.37,294.73 263.19,293.07 264.80,291.83 C266.42,290.60 267.21,289.53 268.41,288.83 C269.61,288.13 270.81,287.83 272.01,287.63 C273.21,287.43 274.41,287.37 275.62,287.63 C276.82,287.89 278.02,288.49 279.22,289.19 C280.42,289.89 281.62,290.79 282.82,291.83 C284.02,292.88 285.23,294.14 286.43,295.44 C287.63,296.74 288.83,298.14 290.03,299.64 C291.23,301.14 292.43,302.85 293.63,304.45 C294.83,306.05 296.04,307.65 297.24,309.25 C298.44,310.85 299.64,312.36 300.84,314.06 C302.04,315.76 303.24,317.66 304.44,319.46 C305.65,321.26 306.85,322.97 308.05,324.87 C309.25,326.77 310.45,328.97 311.65,330.87 C312.85,332.78 314.05,334.58 315.26,336.28 C316.46,337.98 317.66,339.58 318.86,341.08 C320.06,342.59 321.26,343.89 322.46,345.29 C323.66,346.69 324.86,348.09 326.07,349.49 C327.27,350.89 329.07,353.00 329.67,353.70" fill="none" stroke="#ff0000" stroke-width="1.3" stroke-dasharray="3 2.6"/>
<path d="M102.91,423.80 C103.92,423.08 106.78,421.07 108.95,419.48 C111.12,417.89 113.61,416.14 115.93,414.25 C118.26,412.36 120.58,410.18 122.91,408.15 C125.23,406.11 127.56,404.22 129.89,402.04 C132.21,399.86 134.54,397.53 136.86,395.06 C139.19,392.59 141.81,389.69 143.84,387.21 C145.88,384.74 147.33,382.71 149.07,380.24 C150.82,377.77 152.56,375.15 154.31,372.39 C156.05,369.63 157.79,366.72 159.54,363.67 C161.28,360.61 163.03,356.98 164.77,354.07 C166.52,351.17 168.26,348.55 170.00,346.22 C171.75,343.90 173.49,341.72 175.24,340.12 C176.98,338.52 178.73,337.73 180.47,336.63 C182.21,335.53 183.67,334.65 185.70,333.49 C187.74,332.33 190.35,331.02 192.68,329.65 C195.01,328.29 197.33,326.89 199.66,325.29 C201.98,323.69 203.33,322.94 206.63,320.06 C209.94,317.18 215.70,311.66 219.48,308.02 C223.25,304.38 226.02,302.13 229.29,298.21 C232.56,294.28 235.83,288.86 239.10,284.47 C242.37,280.09 245.97,275.05 248.91,271.91 C251.85,268.77 254.31,266.88 256.76,265.63 C259.21,264.39 261.86,264.38 263.60,264.45 C265.34,264.51 266.01,265.25 267.21,266.01 C268.41,266.77 269.61,267.81 270.81,269.01 C272.01,270.21 273.21,271.81 274.41,273.22 C275.62,274.62 276.82,276.02 278.02,277.42 C279.22,278.82 280.42,280.12 281.62,281.62 C282.82,283.13 284.02,284.83 285.23,286.43 C286.43,288.03 287.63,289.73 288.83,291.23 C290.03,292.74 291.23,293.94 292.43,295.44 C293.63,296.94 294.83,298.64 296.04,300.24 C297.24,301.84 298.44,303.45 299.64,305.05 C300.84,306.65 302.04,308.25 303.24,309.85 C304.44,311.45 305.65,313.06 306.85,314.66 C308.05,316.26 309.25,317.86 310.45,319.46 C311.65,321.06 312.85,322.57 314.05,324.27 C315.26,325.97 316.46,327.87 317.66,329.67 C318.86,331.47 320.06,333.18 321.26,335.08 C322.46,336.98 323.76,339.28 324.86,341.08 C325.97,342.89 326.97,344.69 327.87,345.89 C328.77,347.09 329.87,347.89 330.27,348.29" fill="none" stroke="#000" stroke-width="1.25"/>
<line x1="289.9" y1="386.4" x2="308.5" y2="386.4" stroke="#000" stroke-width="1.25"/>
<text x="312.0" y="389.7" class="lg2">0.1 Hz</text>
<line x1="289.9" y1="399.6" x2="308.5" y2="399.6" stroke="#ff0000" stroke-width="1.3" stroke-dasharray="3 2.6"/>
<text x="312.0" y="402.9" class="lg2">1 kHz</text>
<line x1="289.9" y1="412.8" x2="308.5" y2="412.8" stroke="#22ee22" stroke-width="1.2" stroke-dasharray="1.1 3.2"/>
<text x="312.0" y="416.1" class="lg2">10 kHz</text>
<line x1="289.9" y1="426.0" x2="308.5" y2="426.0" stroke="#0000ff" stroke-width="1.4" stroke-dasharray="4.5 3.5"/>
<text x="312.0" y="429.3" class="lg2">100 kHz</text>
<line x1="289.9" y1="439.2" x2="308.5" y2="439.2" stroke="#ff00ff" stroke-width="1.3" stroke-dasharray="3.2 1.5 1.1 1.5 1.1 1.5"/>
<text x="312.0" y="442.5" class="lg2">1000 kHz</text>
<line x1="239.1" y1="333.0" x2="239.1" y2="322.5" stroke="#000" stroke-width="1.0"/>
<path d="M239.1,318.5 L241.1,323.5 L237.1,323.5 Z" fill="#000"/>
<text x="216.7" y="346" class="an" textLength="53.8" lengthAdjust="spacingAndGlyphs">T<tspan dy="3.6" style="font-size:11px">m</tspan><tspan dy="-3.6"> = 284 &#176;C</tspan></text>
<text x="304.8" y="271.5" class="an" textLength="41" lengthAdjust="spacingAndGlyphs">Dielectric</text>
<text x="303.9" y="285" class="an" textLength="42.3" lengthAdjust="spacingAndGlyphs">relaxation</text>
<line x1="305.3" y1="288.3" x2="297.3" y2="292.2" stroke="#000" stroke-width="1.0"/>
<path d="M294.2,293.8 L297.3,290.0 L299.1,293.6 Z" fill="#000"/>
<path d="M423.50,330.23 C424.61,329.86 427.76,328.75 430.12,327.97 C432.48,327.18 435.16,326.39 437.68,325.51 C440.20,324.63 442.71,323.68 445.23,322.68 C447.75,321.67 450.27,320.47 452.79,319.46 C455.31,318.46 457.83,317.57 460.35,316.63 C462.87,315.68 465.39,314.68 467.91,313.79 C470.43,312.91 473.26,312.06 475.47,311.34 C477.67,310.61 479.56,309.92 481.14,309.45 C482.71,308.98 483.66,308.57 484.92,308.50 C486.18,308.44 487.44,308.60 488.70,309.07 C489.96,309.54 491.22,310.39 492.48,311.34 C493.74,312.28 494.99,313.48 496.25,314.74 C497.51,316.00 498.77,317.26 500.03,318.90 C501.29,320.53 502.55,322.36 503.81,324.57 C505.07,326.77 506.33,329.45 507.59,332.12 C508.85,334.80 510.11,337.64 511.37,340.63 C512.63,343.62 513.89,346.77 515.15,350.08 C516.41,353.38 517.67,356.85 518.93,360.47 C520.19,364.09 521.45,368.03 522.71,371.81 C523.97,375.59 525.39,379.68 526.49,383.14 C527.59,386.61 528.38,389.44 529.32,392.59 C530.27,395.74 531.06,398.89 532.16,402.04 C533.26,405.19 534.68,408.34 535.94,411.49 C537.20,414.64 539.04,419.14 539.72,420.94 C540.39,422.73 539.20,420.53 540.00,422.25 C540.80,423.97 543.00,428.07 544.51,431.26 C546.01,434.45 547.51,438.40 549.01,441.40 C550.52,444.41 551.64,446.85 553.52,449.29 C555.40,451.73 558.03,453.98 560.28,456.05 C562.53,458.11 564.79,460.37 567.04,461.68 C569.29,462.99 571.55,463.56 573.80,463.93 C576.05,464.31 578.31,464.50 580.56,463.93 C582.81,463.37 585.07,462.06 587.32,460.55 C589.57,459.05 591.83,457.17 594.08,454.92 C596.33,452.67 598.58,450.60 600.84,447.03 C603.09,443.47 605.72,437.65 607.60,433.51 C609.48,429.38 610.60,426.00 612.10,422.25 C613.61,418.49 615.11,414.74 616.61,410.98 C618.11,407.23 619.62,403.10 621.12,399.72 C622.62,396.34 624.12,393.33 625.62,390.70 C627.13,388.07 628.82,385.52 630.13,383.94 C631.45,382.37 632.38,381.43 633.51,381.24 C634.64,381.05 635.76,381.61 636.89,382.82 C638.02,384.02 639.14,386.01 640.27,388.45 C641.40,390.89 642.52,394.46 643.65,397.46 C644.78,400.47 646.20,404.41 647.03,406.48 C647.86,408.54 648.34,409.29 648.61,409.86" fill="none" stroke="#ff00ff" stroke-width="1.3" stroke-dasharray="3.2 1.5 1.1 1.5 1.1 1.5"/>
<path d="M422.56,357.63 C423.50,357.48 426.02,357.00 428.23,356.69 C430.43,356.37 433.27,356.12 435.79,355.74 C438.31,355.37 440.51,354.96 443.34,354.42 C446.18,353.89 449.64,353.26 452.79,352.53 C455.94,351.81 459.41,350.96 462.24,350.08 C465.08,349.19 467.60,347.97 469.80,347.24 C472.00,346.52 473.74,346.04 475.47,345.73 C477.20,345.41 478.62,345.10 480.19,345.35 C481.77,345.60 483.34,346.36 484.92,347.24 C486.49,348.12 488.07,349.07 489.64,350.64 C491.22,352.22 492.95,354.42 494.37,356.69 C495.78,358.96 496.88,361.41 498.14,364.25 C499.40,367.08 500.66,370.55 501.92,373.70 C503.18,376.85 504.44,379.99 505.70,383.14 C506.96,386.29 508.22,389.44 509.48,392.59 C510.74,395.74 512.00,398.89 513.26,402.04 C514.52,405.19 515.78,408.34 517.04,411.49 C518.30,414.64 519.56,417.79 520.82,420.94 C522.08,424.09 523.34,427.24 524.60,430.39 C525.86,433.53 527.12,437.00 528.38,439.83 C529.64,442.67 530.90,445.19 532.16,447.39 C533.42,449.60 534.68,451.33 535.94,453.06 C537.20,454.79 539.04,457.48 539.72,457.79 C540.39,458.10 538.83,454.46 540.00,454.92 C541.17,455.38 544.51,459.13 546.76,460.55 C549.01,461.98 551.27,462.92 553.52,463.48 C555.77,464.05 558.03,464.23 560.28,463.93 C562.53,463.63 564.79,462.81 567.04,461.68 C569.29,460.55 571.55,459.05 573.80,457.17 C576.05,455.30 578.31,453.23 580.56,450.41 C582.81,447.60 585.07,444.59 587.32,440.27 C589.57,435.96 592.01,430.51 594.08,424.50 C596.14,418.49 598.02,410.98 599.71,404.22 C601.40,397.46 602.72,389.95 604.22,383.94 C605.72,377.93 607.41,372.11 608.72,368.17 C610.04,364.23 610.98,362.05 612.10,360.28 C613.23,358.52 614.36,357.84 615.48,357.58 C616.61,357.32 617.74,357.69 618.86,358.71 C619.99,359.72 621.12,360.96 622.24,363.66 C623.37,366.37 624.50,370.42 625.62,374.93 C626.75,379.44 627.88,385.82 629.00,390.70 C630.13,395.58 631.26,400.09 632.38,404.22 C633.51,408.35 634.64,412.11 635.76,415.49 C636.89,418.87 638.02,421.50 639.14,424.50 C640.27,427.51 641.40,430.89 642.52,433.51 C643.65,436.14 644.89,438.58 645.90,440.27 C646.92,441.96 648.16,443.09 648.61,443.65" fill="none" stroke="#007a00" stroke-width="1.3" stroke-dasharray="4.2 1.8 1.2 1.8"/>
<path d="M422.56,377.48 C423.66,377.22 426.97,376.44 429.17,375.96 C431.38,375.49 433.42,375.02 435.79,374.64 C438.15,374.26 440.51,374.07 443.34,373.70 C446.18,373.32 449.96,372.75 452.79,372.37 C455.63,372.00 457.83,371.74 460.35,371.43 C462.87,371.11 465.39,370.61 467.91,370.48 C470.43,370.36 473.11,370.36 475.47,370.67 C477.83,370.99 480.19,371.40 482.08,372.37 C483.97,373.35 485.39,375.05 486.81,376.53 C488.22,378.01 489.33,379.21 490.59,381.25 C491.85,383.30 493.11,385.98 494.37,388.81 C495.62,391.65 496.88,395.11 498.14,398.26 C499.40,401.41 500.66,404.56 501.92,407.71 C503.18,410.86 504.44,414.32 505.70,417.16 C506.96,419.99 508.22,421.88 509.48,424.72 C510.74,427.55 512.00,431.02 513.26,434.16 C514.52,437.31 515.78,440.94 517.04,443.61 C518.30,446.29 519.56,448.34 520.82,450.23 C522.08,452.12 523.34,453.53 524.60,454.95 C525.86,456.37 527.12,457.72 528.38,458.73 C529.64,459.74 530.58,460.43 532.16,461.00 C533.73,461.56 536.52,462.02 537.83,462.13 C539.13,462.25 538.51,462.51 540.00,461.68 C541.49,460.85 544.51,458.86 546.76,457.17 C549.01,455.48 551.27,453.61 553.52,451.54 C555.77,449.48 558.03,447.41 560.28,444.78 C562.53,442.15 564.79,439.52 567.04,435.77 C569.29,432.01 571.73,427.51 573.80,422.25 C575.86,416.99 577.74,410.23 579.43,404.22 C581.12,398.21 582.44,392.58 583.94,386.20 C585.44,379.81 587.13,372.30 588.45,365.92 C589.76,359.53 590.70,353.15 591.83,347.89 C592.95,342.63 594.08,337.56 595.21,334.37 C596.33,331.18 597.46,329.49 598.58,328.74 C599.71,327.99 600.65,327.80 601.96,329.86 C603.28,331.93 605.16,337.00 606.47,341.13 C607.79,345.26 608.72,349.77 609.85,354.65 C610.98,359.53 612.10,365.17 613.23,370.42 C614.36,375.68 615.48,381.31 616.61,386.20 C617.74,391.08 618.86,395.21 619.99,399.72 C621.12,404.22 622.06,408.35 623.37,413.24 C624.69,418.12 626.38,424.69 627.88,429.01 C629.38,433.33 630.88,436.52 632.38,439.15 C633.89,441.78 635.20,443.47 636.89,444.78 C638.58,446.10 640.57,446.47 642.52,447.03 C644.48,447.60 647.59,447.97 648.61,448.16" fill="none" stroke="#2020ff" stroke-width="1.2" stroke-dasharray="1.1 3.6"/>
<path d="M422.56,383.14 C423.03,383.62 424.13,385.35 425.39,385.98 C426.65,386.61 428.07,386.77 430.12,386.92 C432.16,387.08 434.84,386.99 437.68,386.92 C440.51,386.86 443.97,386.80 447.12,386.55 C450.27,386.29 453.74,385.73 456.57,385.41 C459.41,385.10 461.77,384.78 464.13,384.66 C466.49,384.53 468.70,384.34 470.74,384.66 C472.79,384.97 474.68,385.70 476.41,386.55 C478.15,387.40 479.56,388.44 481.14,389.76 C482.71,391.08 484.29,392.28 485.86,394.48 C487.44,396.69 489.17,400.15 490.59,402.99 C492.00,405.82 493.11,408.50 494.37,411.49 C495.62,414.48 496.88,417.79 498.14,420.94 C499.40,424.09 500.66,427.39 501.92,430.39 C503.18,433.38 504.44,436.21 505.70,438.89 C506.96,441.57 508.22,444.24 509.48,446.45 C510.74,448.65 512.00,450.64 513.26,452.12 C514.52,453.60 515.78,454.60 517.04,455.33 C518.30,456.05 519.56,456.27 520.82,456.46 C522.08,456.65 523.34,456.56 524.60,456.46 C525.86,456.37 527.12,456.31 528.38,455.90 C529.64,455.49 530.90,454.79 532.16,454.01 C533.42,453.22 534.68,452.43 535.94,451.17 C537.20,449.91 539.04,447.51 539.72,446.45 C540.39,445.38 539.20,447.31 540.00,444.78 C540.80,442.25 543.00,436.14 544.51,431.26 C546.01,426.38 547.51,421.12 549.01,415.49 C550.52,409.86 552.02,403.85 553.52,397.46 C555.02,391.08 556.52,383.57 558.03,377.18 C559.53,370.80 561.03,365.17 562.53,359.16 C564.03,353.15 565.54,347.51 567.04,341.13 C568.54,334.75 570.23,326.86 571.55,320.85 C572.86,314.84 573.80,309.40 574.93,305.08 C576.05,300.76 577.18,297.27 578.31,294.94 C579.43,292.61 580.75,291.67 581.69,291.11 C582.62,290.54 583.00,290.36 583.94,291.56 C584.88,292.76 586.19,294.94 587.32,298.32 C588.45,301.70 589.57,306.58 590.70,311.84 C591.83,317.10 592.95,323.48 594.08,329.86 C595.21,336.25 596.33,343.38 597.46,350.14 C598.58,356.90 599.71,364.04 600.84,370.42 C601.96,376.81 603.09,382.82 604.22,388.45 C605.34,394.08 606.28,399.34 607.60,404.22 C608.91,409.10 610.60,413.61 612.10,417.74 C613.61,421.87 615.11,426.19 616.61,429.01 C618.11,431.82 619.43,433.33 621.12,434.64 C622.81,435.96 624.87,436.71 626.75,436.89 C628.63,437.08 630.69,436.52 632.38,435.77 C634.07,435.02 635.39,433.70 636.89,432.39 C638.39,431.07 639.89,429.38 641.40,427.88 C642.90,426.38 644.70,424.69 645.90,423.37 C647.11,422.06 648.16,420.56 648.61,420.00" fill="none" stroke="#ff0000" stroke-width="1.3" stroke-dasharray="3 2.6"/>
<path d="M422.56,361.41 C422.62,363.78 422.78,371.65 422.94,375.59 C423.09,379.52 423.09,382.51 423.50,385.03 C423.91,387.55 424.61,389.29 425.39,390.70 C426.18,392.12 426.81,393.00 428.23,393.54 C429.64,394.07 431.38,393.85 433.90,393.92 C436.42,393.98 440.20,394.07 443.34,393.92 C446.49,393.76 449.96,393.19 452.79,392.97 C455.63,392.75 457.83,392.66 460.35,392.59 C462.87,392.53 465.71,392.28 467.91,392.59 C470.11,392.91 471.85,393.54 473.58,394.48 C475.31,395.43 476.73,396.53 478.30,398.26 C479.88,399.99 481.45,402.36 483.03,404.88 C484.60,407.39 486.18,410.23 487.75,413.38 C489.33,416.53 490.90,420.31 492.48,423.77 C494.05,427.24 495.62,431.02 497.20,434.16 C498.77,437.31 500.51,440.62 501.92,442.67 C503.34,444.72 504.44,445.66 505.70,446.45 C506.96,447.23 508.22,447.39 509.48,447.39 C510.74,447.39 512.00,447.23 513.26,446.45 C514.52,445.66 515.78,444.40 517.04,442.67 C518.30,440.94 519.56,438.42 520.82,436.05 C522.08,433.69 523.34,431.65 524.60,428.50 C525.86,425.35 527.12,421.57 528.38,417.16 C529.64,412.75 530.90,407.71 532.16,402.04 C533.42,396.37 534.63,389.17 535.94,383.14 C537.24,377.12 538.76,372.17 540.00,365.92 C541.24,359.67 542.25,353.15 543.38,345.64 C544.51,338.13 545.63,329.11 546.76,320.85 C547.89,312.59 549.01,303.58 550.14,296.07 C551.27,288.55 552.39,280.86 553.52,275.79 C554.65,270.72 555.77,267.97 556.90,265.65 C558.03,263.32 559.34,262.57 560.28,261.82 C561.22,261.06 561.78,260.88 562.53,261.14 C563.28,261.40 563.85,261.70 564.79,263.39 C565.72,265.08 567.04,267.34 568.17,271.28 C569.29,275.22 570.42,281.04 571.55,287.05 C572.67,293.06 573.80,300.20 574.93,307.33 C576.05,314.47 577.18,322.35 578.31,329.86 C579.43,337.38 580.56,345.26 581.69,352.40 C582.81,359.53 583.94,366.67 585.07,372.68 C586.19,378.69 587.32,383.94 588.45,388.45 C589.57,392.96 590.51,396.34 591.83,399.72 C593.14,403.10 594.83,406.40 596.33,408.73 C597.83,411.06 599.34,412.56 600.84,413.69 C602.34,414.81 603.84,415.19 605.34,415.49 C606.85,415.79 608.35,416.05 609.85,415.49 C611.35,414.93 612.86,413.42 614.36,412.11 C615.86,410.79 617.36,409.29 618.86,407.60 C620.37,405.91 622.06,404.41 623.37,401.97 C624.69,399.53 625.62,395.96 626.75,392.96 C627.88,389.95 629.00,387.70 630.13,383.94 C631.26,380.19 632.57,374.18 633.51,370.42 C634.45,366.67 635.01,364.79 635.76,361.41 C636.51,358.03 637.27,353.90 638.02,350.14 C638.77,346.39 639.52,343.01 640.27,338.88 C641.02,334.75 641.77,329.86 642.52,325.36 C643.27,320.85 644.03,316.34 644.78,311.84 C645.53,307.33 646.39,301.89 647.03,298.32 C647.67,294.75 648.34,291.75 648.61,290.43" fill="none" stroke="#000" stroke-width="1.25"/>
<text x="600.8" y="279.5" class="an" textLength="38.3" lengthAdjust="spacingAndGlyphs">Dielectric</text>
<text x="600.4" y="291.5" class="an" textLength="38.7" lengthAdjust="spacingAndGlyphs">relaxation</text>
<line x1="582.8" y1="276.9" x2="631.1" y2="357.4" stroke="#000" stroke-width="1.5"/>
<path d="M634.2,362.5 L628.2,357.9 L633.0,355.1 Z" fill="#000"/>
<path d="M103.70,689.19 C104.87,688.37 108.37,685.95 110.70,684.25 C113.03,682.55 115.35,680.91 117.68,679.02 C120.00,677.13 122.33,675.09 124.65,672.91 C126.98,670.73 129.30,668.41 131.63,665.94 C133.96,663.46 136.28,660.70 138.61,658.09 C140.93,655.47 143.26,652.85 145.58,650.24 C147.91,647.62 150.24,645.00 152.56,642.39 C154.89,639.77 157.50,637.01 159.54,634.54 C161.57,632.07 163.03,629.89 164.77,627.56 C166.52,625.24 168.26,622.76 170.00,620.58 C171.75,618.40 173.49,616.66 175.24,614.48 C176.98,612.30 178.73,609.68 180.47,607.50 C182.21,605.32 183.96,603.43 185.70,601.40 C187.45,599.36 189.19,597.33 190.94,595.29 C192.68,593.26 194.04,590.73 196.17,589.19 C198.30,587.65 201.88,587.25 203.72,586.05 C205.56,584.84 205.95,583.24 207.21,581.98 C208.47,580.72 210.02,579.60 211.28,578.49 C212.54,577.37 213.31,576.84 214.77,575.29 C216.22,573.74 218.16,571.08 220.00,569.19 C221.84,567.30 223.99,566.04 225.81,563.95 C227.64,561.87 229.21,558.48 230.93,556.69 C232.66,554.90 234.42,554.22 236.16,553.20 C237.91,552.18 239.65,551.46 241.40,550.58 C243.14,549.71 244.89,548.69 246.63,547.97 C248.37,547.24 250.12,546.60 251.86,546.22 C253.61,545.85 255.35,545.55 257.10,545.70 C258.84,545.85 260.58,546.43 262.33,547.10 C264.07,547.76 265.82,548.69 267.56,549.71 C269.31,550.73 271.05,551.89 272.79,553.20 C274.54,554.51 276.28,556.11 278.03,557.56 C279.77,559.02 281.52,560.47 283.26,561.92 C285.00,563.38 286.75,564.68 288.49,566.28 C290.24,567.88 291.98,569.77 293.73,571.52 C295.47,573.26 297.21,575.00 298.96,576.75 C300.70,578.49 302.45,580.24 304.19,581.98 C305.94,583.73 307.68,585.47 309.42,587.21 C311.17,588.96 312.91,590.56 314.66,592.45 C316.40,594.34 318.15,596.66 319.89,598.55 C321.63,600.44 323.44,602.19 325.12,603.79 C326.81,605.38 329.19,607.42 330.01,608.15" fill="none" stroke="#ff00ff" stroke-width="1.3" stroke-dasharray="3.2 1.5 1.1 1.5 1.1 1.5"/>
<path d="M103.70,684.49 C104.87,683.57 108.37,680.95 110.70,679.02 C113.03,677.09 115.35,675.09 117.68,672.91 C120.00,670.73 122.33,668.26 124.65,665.94 C126.98,663.61 129.30,661.58 131.63,658.96 C133.96,656.34 136.28,653.29 138.61,650.24 C140.93,647.18 143.55,643.55 145.58,640.64 C147.62,637.74 149.07,635.27 150.82,632.79 C152.56,630.32 154.31,628.43 156.05,625.82 C157.79,623.20 159.54,619.71 161.28,617.10 C163.03,614.48 164.77,612.30 166.52,610.12 C168.26,607.94 170.00,605.90 171.75,604.01 C173.49,602.12 175.24,600.15 176.98,598.78 C178.73,597.41 180.18,596.83 182.21,595.82 C184.25,594.80 186.87,593.78 189.19,592.68 C191.52,591.57 193.94,590.63 196.17,589.19 C198.40,587.74 200.81,585.36 202.56,584.01 C204.30,582.66 204.98,582.36 206.63,581.10 C208.28,579.84 210.70,578.00 212.44,576.45 C214.19,574.90 215.45,573.45 217.09,571.80 C218.74,570.16 220.78,568.12 222.33,566.57 C223.88,565.02 224.96,564.29 226.40,562.50 C227.83,560.71 229.30,557.51 230.93,555.82 C232.56,554.12 234.42,553.35 236.16,552.33 C237.91,551.31 239.65,550.53 241.40,549.71 C243.14,548.90 244.89,548.08 246.63,547.44 C248.37,546.81 250.12,546.22 251.86,545.87 C253.61,545.53 255.35,545.35 257.10,545.35 C258.84,545.35 260.58,545.53 262.33,545.87 C264.07,546.22 265.82,546.81 267.56,547.44 C269.31,548.08 271.05,548.75 272.79,549.71 C274.54,550.67 276.28,552.04 278.03,553.20 C279.77,554.36 281.52,555.53 283.26,556.69 C285.00,557.85 286.75,559.02 288.49,560.18 C290.24,561.34 291.98,562.50 293.73,563.67 C295.47,564.83 297.21,565.85 298.96,567.16 C300.70,568.46 302.45,569.77 304.19,571.52 C305.94,573.26 307.68,575.30 309.42,577.62 C311.17,579.95 312.91,583.00 314.66,585.47 C316.40,587.94 318.15,590.12 319.89,592.45 C321.63,594.77 323.44,597.39 325.12,599.42 C326.81,601.46 329.19,603.79 330.01,604.66" fill="none" stroke="#007a00" stroke-width="1.3" stroke-dasharray="4.2 1.8 1.2 1.8"/>
<path d="M103.70,681.35 C103.99,680.96 104.01,680.28 105.47,679.02 C106.92,677.76 110.12,675.67 112.44,673.79 C114.77,671.90 117.09,669.86 119.42,667.68 C121.75,665.50 124.07,663.03 126.40,660.70 C128.72,658.38 131.05,656.63 133.37,653.73 C135.70,650.82 138.32,646.75 140.35,643.26 C142.39,639.77 143.84,636.28 145.58,632.79 C147.33,629.31 149.22,625.24 150.82,622.33 C152.42,619.42 153.72,617.68 155.18,615.35 C156.63,613.03 157.94,610.55 159.54,608.37 C161.14,606.19 163.03,604.16 164.77,602.27 C166.52,600.38 168.11,598.64 170.00,597.04 C171.89,595.44 174.07,593.75 176.11,592.68 C178.14,591.60 180.03,591.22 182.21,590.58 C184.39,589.94 186.87,589.51 189.19,588.84 C191.52,588.17 193.94,587.42 196.17,586.57 C198.40,585.72 200.81,584.68 202.56,583.72 C204.30,582.76 204.98,582.07 206.63,580.81 C208.28,579.55 210.70,577.71 212.44,576.16 C214.19,574.61 215.45,573.16 217.09,571.51 C218.74,569.86 220.78,567.83 222.33,566.28 C223.88,564.73 224.96,563.95 226.40,562.21 C227.83,560.47 229.30,557.46 230.93,555.82 C232.56,554.17 234.42,553.49 236.16,552.33 C237.91,551.17 239.65,549.86 241.40,548.84 C243.14,547.82 244.89,546.95 246.63,546.22 C248.37,545.50 250.12,544.97 251.86,544.48 C253.61,543.99 255.35,543.55 257.10,543.26 C258.84,542.97 260.58,542.88 262.33,542.74 C264.07,542.59 265.82,542.33 267.56,542.39 C269.31,542.44 271.05,542.74 272.79,543.08 C274.54,543.43 276.28,543.81 278.03,544.48 C279.77,545.15 281.52,546.08 283.26,547.10 C285.00,548.11 286.75,549.13 288.49,550.58 C290.24,552.04 291.98,553.78 293.73,555.82 C295.47,557.85 297.21,560.47 298.96,562.79 C300.70,565.12 302.45,567.45 304.19,569.77 C305.94,572.10 307.68,574.13 309.42,576.75 C311.17,579.37 312.91,582.85 314.66,585.47 C316.40,588.09 318.15,590.27 319.89,592.45 C321.63,594.63 323.44,596.81 325.12,598.55 C326.81,600.30 329.19,602.19 330.01,602.91" fill="none" stroke="#2020ff" stroke-width="1.2" stroke-dasharray="1.1 3.6"/>
<path d="M103.70,677.42 C104.72,676.38 107.64,673.23 109.83,671.17 C112.01,669.11 114.62,667.39 116.80,665.06 C118.98,662.74 121.02,659.69 122.91,657.21 C124.80,654.74 126.40,652.56 128.14,650.24 C129.89,647.91 131.63,645.88 133.37,643.26 C135.12,640.64 136.86,637.59 138.61,634.54 C140.35,631.49 142.24,628.00 143.84,624.95 C145.44,621.89 146.75,618.84 148.20,616.22 C149.65,613.61 150.96,611.86 152.56,609.25 C154.16,606.63 156.05,603.14 157.79,600.53 C159.54,597.91 161.28,595.44 163.03,593.55 C164.77,591.66 166.52,590.12 168.26,589.19 C170.00,588.26 171.75,588.17 173.49,587.97 C175.24,587.76 176.98,587.91 178.73,587.97 C180.47,588.02 181.92,588.40 183.96,588.32 C185.99,588.23 188.61,588.02 190.94,587.44 C193.26,586.86 196.27,585.54 197.91,584.83 C199.56,584.11 199.65,583.91 200.81,583.14 C201.98,582.37 203.43,581.40 204.88,580.23 C206.34,579.07 208.08,577.42 209.53,576.16 C210.99,574.90 212.15,573.93 213.60,572.67 C215.06,571.41 216.80,569.91 218.26,568.60 C219.71,567.30 220.87,566.23 222.33,564.83 C223.78,563.42 225.54,561.82 226.98,560.17 C228.41,558.53 229.40,556.54 230.93,554.95 C232.46,553.35 234.42,552.18 236.16,550.58 C237.91,548.99 239.65,546.95 241.40,545.35 C243.14,543.75 244.89,542.44 246.63,540.99 C248.37,539.54 250.12,537.94 251.86,536.63 C253.61,535.32 255.35,534.16 257.10,533.14 C258.84,532.12 260.58,531.25 262.33,530.53 C264.07,529.80 265.82,529.16 267.56,528.78 C269.31,528.40 271.34,528.17 272.79,528.26 C274.25,528.34 275.12,528.78 276.28,529.30 C277.45,529.83 278.61,530.47 279.77,531.40 C280.93,532.33 281.95,533.29 283.26,534.89 C284.57,536.48 286.17,538.81 287.62,540.99 C289.07,543.17 290.38,545.50 291.98,547.97 C293.58,550.44 295.47,553.06 297.21,555.82 C298.96,558.58 300.70,561.63 302.45,564.54 C304.19,567.45 305.94,570.35 307.68,573.26 C309.42,576.17 311.17,579.37 312.91,581.98 C314.66,584.60 316.40,586.63 318.15,588.96 C319.89,591.28 321.40,593.90 323.38,595.94 C325.36,597.97 328.90,600.30 330.01,601.17" fill="none" stroke="#ff0000" stroke-width="1.3" stroke-dasharray="3 2.6"/>
<path d="M103.70,672.32 C104.57,671.40 107.21,668.74 108.95,666.81 C110.70,664.87 112.44,662.74 114.19,660.70 C115.93,658.67 117.68,656.63 119.42,654.60 C121.16,652.56 122.91,650.67 124.65,648.49 C126.40,646.31 128.14,643.99 129.89,641.52 C131.63,639.04 133.37,636.43 135.12,633.67 C136.86,630.90 138.61,628.00 140.35,624.95 C142.10,621.89 143.84,618.69 145.58,615.35 C147.33,612.01 149.07,608.37 150.82,604.89 C152.56,601.40 154.31,597.33 156.05,594.42 C157.79,591.51 159.54,589.10 161.28,587.44 C163.03,585.79 164.77,584.97 166.52,584.48 C168.26,583.98 170.00,584.13 171.75,584.48 C173.49,584.83 175.24,586.08 176.98,586.57 C178.73,587.06 180.18,587.36 182.21,587.44 C184.25,587.53 186.87,587.53 189.19,587.09 C191.52,586.66 194.23,585.87 196.17,584.83 C198.11,583.78 199.07,582.26 200.81,580.81 C202.56,579.37 204.69,577.91 206.63,576.16 C208.57,574.42 210.50,572.34 212.44,570.35 C214.38,568.36 216.32,566.47 218.26,564.24 C220.19,562.02 221.96,559.98 224.07,556.98 C226.18,553.97 228.92,549.32 230.93,546.22 C232.95,543.12 234.42,540.99 236.16,538.37 C237.91,535.76 239.65,533.00 241.40,530.53 C243.14,528.05 244.89,525.58 246.63,523.55 C248.37,521.51 250.12,519.62 251.86,518.32 C253.61,517.01 255.35,516.28 257.10,515.70 C258.84,515.12 260.58,514.83 262.33,514.83 C264.07,514.83 265.82,515.12 267.56,515.70 C269.31,516.28 271.05,517.30 272.79,518.32 C274.54,519.33 276.28,520.35 278.03,521.80 C279.77,523.26 281.52,525.00 283.26,527.04 C285.00,529.07 286.75,531.54 288.49,534.01 C290.24,536.48 291.98,539.10 293.73,541.86 C295.47,544.62 297.21,547.68 298.96,550.58 C300.70,553.49 302.45,556.40 304.19,559.31 C305.94,562.21 307.68,565.12 309.42,568.03 C311.17,570.93 312.91,573.84 314.66,576.75 C316.40,579.66 318.15,582.85 319.89,585.47 C321.63,588.09 323.44,590.56 325.12,592.45 C326.81,594.34 329.19,596.08 330.01,596.81" fill="none" stroke="#000" stroke-width="1.25"/>
<line x1="289.9" y1="645.7" x2="307.29999999999995" y2="645.7" stroke="#000" stroke-width="1.25"/>
<text x="309.9" y="648.3" class="lg">0.1 kHz</text>
<line x1="289.9" y1="657.8" x2="307.29999999999995" y2="657.8" stroke="#ff0000" stroke-width="1.3" stroke-dasharray="3 2.6"/>
<text x="309.9" y="660.4" class="lg">1 kHz</text>
<line x1="289.9" y1="669.9" x2="307.29999999999995" y2="669.9" stroke="#2020ff" stroke-width="1.2" stroke-dasharray="1.1 3.6"/>
<text x="309.9" y="672.5" class="lg">10 kHz</text>
<line x1="289.9" y1="682.0" x2="307.29999999999995" y2="682.0" stroke="#007a00" stroke-width="1.3" stroke-dasharray="4.2 1.8 1.2 1.8"/>
<text x="309.9" y="684.6" class="lg">100 kHz</text>
<line x1="289.9" y1="694.1" x2="307.29999999999995" y2="694.1" stroke="#ff00ff" stroke-width="1.3" stroke-dasharray="3.2 1.5 1.1 1.5 1.1 1.5"/>
<text x="309.9" y="696.7" class="lg">1000 kHz</text>
<line x1="257.5" y1="594.0" x2="257.5" y2="559.5" stroke="#000" stroke-width="1.2"/>
<path d="M257.5,553.5 L260.1,560.5 L254.9,560.5 Z" fill="#000"/>
<text x="241" y="604.8" class="an" textLength="51" lengthAdjust="spacingAndGlyphs">T<tspan dy="3.6" style="font-size:11px">m</tspan><tspan dy="-3.6"> = 313 &#176;C</tspan></text>
<text x="310.5" y="511" class="an" textLength="38.5" lengthAdjust="spacingAndGlyphs">Dielectric</text>
<text x="310.5" y="523" class="an" textLength="38.5" lengthAdjust="spacingAndGlyphs">relaxation</text>
<line x1="305.9" y1="517.4" x2="295.4" y2="528.6" stroke="#000" stroke-width="1.0"/>
<path d="M292.0,532.3 L294.4,526.3 L297.8,529.5 Z" fill="#000"/>
<path d="M423.25,559.11 C424.29,558.32 427.38,556.02 429.44,554.37 C431.51,552.72 433.57,550.93 435.64,549.21 C437.70,547.49 439.76,545.77 441.83,544.05 C443.89,542.33 445.95,540.44 448.02,538.89 C450.08,537.34 452.14,536.14 454.21,534.76 C456.27,533.39 458.33,532.36 460.40,530.64 C462.46,528.92 464.70,526.51 466.59,524.44 C468.48,522.38 470.20,519.70 471.75,518.25 C473.30,516.81 474.67,516.12 475.87,515.78 C477.08,515.43 477.77,515.61 478.97,516.19 C480.17,516.78 481.72,517.74 483.10,519.29 C484.47,520.83 485.85,522.90 487.22,525.48 C488.60,528.06 490.15,531.67 491.35,534.76 C492.56,537.86 493.42,540.61 494.45,544.05 C495.48,547.49 496.51,551.44 497.54,555.40 C498.57,559.35 499.61,563.31 500.64,567.78 C501.67,572.25 502.70,577.41 503.73,582.22 C504.76,587.04 505.80,591.85 506.83,596.67 C507.86,601.48 508.89,606.64 509.92,611.11 C510.96,615.59 511.99,619.71 513.02,623.50 C514.05,627.28 515.08,630.37 516.11,633.81 C517.15,637.25 518.18,640.69 519.21,644.13 C520.24,647.57 521.10,650.67 522.30,654.45 C523.51,658.23 525.06,663.05 526.43,666.83 C527.81,670.61 529.18,674.05 530.56,677.15 C531.93,680.24 533.31,683.17 534.69,685.40 C536.06,687.64 537.18,689.35 538.81,690.56 C540.45,691.77 542.43,691.38 544.51,692.67 C546.58,693.96 549.01,696.80 551.27,698.30 C553.52,699.80 555.77,700.74 558.03,701.68 C560.28,702.62 562.53,703.45 564.79,703.93 C567.04,704.42 569.29,704.61 571.55,704.61 C573.80,704.61 576.05,704.42 578.31,703.93 C580.56,703.45 582.81,702.62 585.07,701.68 C587.32,700.74 589.57,699.80 591.83,698.30 C594.08,696.80 596.33,694.92 598.58,692.67 C600.84,690.41 603.09,687.41 605.34,684.78 C607.60,682.15 609.85,679.52 612.10,676.89 C614.36,674.27 616.80,671.07 618.86,669.01 C620.93,666.94 622.62,665.44 624.50,664.50 C626.38,663.56 628.44,663.37 630.13,663.37 C631.82,663.37 633.14,663.56 634.64,664.50 C636.14,665.44 637.83,667.32 639.14,669.01 C640.46,670.70 641.40,672.76 642.52,674.64 C643.65,676.52 644.96,678.77 645.90,680.27 C646.84,681.78 647.78,683.09 648.16,683.65" fill="none" stroke="#ff00ff" stroke-width="1.3" stroke-dasharray="3.2 1.5 1.1 1.5 1.1 1.5"/>
<path d="M423.25,588.83 C424.29,588.07 427.38,585.73 429.44,584.29 C431.51,582.84 433.57,581.54 435.64,580.16 C437.70,578.79 439.76,577.41 441.83,576.03 C443.89,574.66 445.95,573.28 448.02,571.91 C450.08,570.53 452.14,569.22 454.21,567.78 C456.27,566.34 458.33,564.79 460.40,563.24 C462.46,561.69 464.87,559.73 466.59,558.49 C468.31,557.26 469.51,556.26 470.72,555.81 C471.92,555.36 472.78,555.54 473.81,555.81 C474.84,556.09 475.70,556.50 476.91,557.46 C478.11,558.42 479.83,560.04 481.03,561.59 C482.24,563.14 483.10,564.34 484.13,566.75 C485.16,569.16 486.19,572.42 487.22,576.03 C488.26,579.65 489.29,583.94 490.32,588.42 C491.35,592.89 492.38,598.05 493.42,602.86 C494.45,607.68 495.48,612.49 496.51,617.30 C497.54,622.12 498.57,626.93 499.61,631.75 C500.64,636.56 501.67,641.72 502.70,646.19 C503.73,650.67 504.59,654.11 505.80,658.58 C507.00,663.05 508.55,668.72 509.92,673.02 C511.30,677.32 512.68,681.10 514.05,684.37 C515.43,687.64 516.80,690.39 518.18,692.62 C519.55,694.86 520.76,696.24 522.30,697.78 C523.85,699.33 525.74,700.81 527.46,701.91 C529.18,703.01 530.73,703.70 532.62,704.39 C534.51,705.07 536.46,705.55 538.81,706.04 C541.17,706.53 544.31,707.03 546.76,707.31 C549.21,707.60 551.27,707.95 553.52,707.76 C555.77,707.58 558.03,706.83 560.28,706.19 C562.53,705.55 564.79,704.68 567.04,703.93 C569.29,703.18 571.55,702.81 573.80,701.68 C576.05,700.55 578.31,699.24 580.56,697.17 C582.81,695.11 585.07,692.48 587.32,689.29 C589.57,686.10 592.01,682.15 594.08,678.02 C596.14,673.89 597.83,668.26 599.71,664.50 C601.59,660.75 603.65,657.44 605.34,655.49 C607.03,653.54 608.35,653.24 609.85,652.78 C611.35,652.33 612.86,651.96 614.36,652.78 C615.86,653.61 617.36,655.79 618.86,657.74 C620.37,659.69 621.87,661.87 623.37,664.50 C624.87,667.13 626.38,670.51 627.88,673.51 C629.38,676.52 630.88,679.71 632.38,682.53 C633.89,685.34 635.39,688.35 636.89,690.41 C638.39,692.48 639.89,693.61 641.40,694.92 C642.90,696.24 644.78,697.36 645.90,698.30 C647.03,699.24 647.78,700.18 648.16,700.55" fill="none" stroke="#007a00" stroke-width="1.3" stroke-dasharray="4.2 1.8 1.2 1.8"/>
<path d="M423.25,610.08 C424.11,609.39 426.52,607.50 428.41,605.96 C430.30,604.41 432.37,602.52 434.60,600.80 C436.84,599.08 439.25,597.19 441.83,595.64 C444.41,594.09 447.33,592.89 450.08,591.51 C452.83,590.13 455.93,588.52 458.33,587.38 C460.74,586.25 462.81,585.22 464.53,584.70 C466.25,584.18 467.28,584.08 468.65,584.29 C470.03,584.49 471.40,585.08 472.78,585.94 C474.16,586.80 475.53,587.31 476.91,589.45 C478.28,591.58 479.66,594.78 481.03,598.73 C482.41,602.69 483.96,608.36 485.16,613.18 C486.36,617.99 487.22,622.81 488.26,627.62 C489.29,632.44 490.32,637.60 491.35,642.07 C492.38,646.54 493.42,650.32 494.45,654.45 C495.48,658.58 496.34,662.36 497.54,666.83 C498.75,671.30 500.29,677.15 501.67,681.28 C503.05,685.40 504.08,688.50 505.80,691.59 C507.52,694.69 509.92,697.78 511.99,699.85 C514.05,701.91 516.11,702.94 518.18,703.97 C520.24,705.01 522.30,705.52 524.37,706.04 C526.43,706.55 528.15,706.79 530.56,707.07 C532.97,707.34 536.11,708.02 538.81,707.69 C541.51,707.35 544.31,706.06 546.76,705.06 C549.21,704.06 551.27,702.99 553.52,701.68 C555.77,700.37 558.03,698.68 560.28,697.17 C562.53,695.67 564.79,694.73 567.04,692.67 C569.29,690.60 571.55,687.97 573.80,684.78 C576.05,681.59 578.68,677.27 580.56,673.51 C582.44,669.76 583.56,666.00 585.07,662.25 C586.57,658.49 588.07,654.36 589.57,650.98 C591.07,647.60 592.58,643.66 594.08,641.97 C595.58,640.28 597.08,641.03 598.58,640.84 C600.09,640.65 601.59,639.90 603.09,640.84 C604.59,641.78 606.28,644.03 607.60,646.48 C608.91,648.92 609.85,652.11 610.98,655.49 C612.10,658.87 613.04,663.00 614.36,666.75 C615.67,670.51 617.36,674.64 618.86,678.02 C620.37,681.40 621.87,684.59 623.37,687.03 C624.87,689.48 626.38,691.35 627.88,692.67 C629.38,693.98 630.88,694.36 632.38,694.92 C633.89,695.48 635.01,695.78 636.89,696.05 C638.77,696.31 641.77,696.42 643.65,696.50 C645.53,696.57 647.41,696.50 648.16,696.50" fill="none" stroke="#2020ff" stroke-width="1.2" stroke-dasharray="1.1 3.6"/>
<path d="M422.84,624.53 C423.43,623.84 425.08,621.78 426.35,620.40 C427.62,619.02 428.93,617.58 430.48,616.27 C432.02,614.97 433.74,613.76 435.64,612.56 C437.53,611.36 439.76,610.15 441.83,609.05 C443.89,607.95 445.95,606.99 448.02,605.96 C450.08,604.92 452.14,603.89 454.21,602.86 C456.27,601.83 458.51,600.52 460.40,599.76 C462.29,599.01 464.18,598.42 465.56,598.32 C466.93,598.22 467.62,598.56 468.65,599.15 C469.68,599.73 470.72,600.52 471.75,601.83 C472.78,603.14 473.81,604.92 474.84,606.99 C475.87,609.05 476.91,611.46 477.94,614.21 C478.97,616.96 480.00,619.88 481.03,623.50 C482.07,627.11 483.10,631.41 484.13,635.88 C485.16,640.35 486.19,645.51 487.22,650.32 C488.26,655.14 489.29,660.30 490.32,664.77 C491.35,669.24 492.21,673.02 493.42,677.15 C494.62,681.28 496.17,686.09 497.54,689.53 C498.92,692.97 500.29,695.72 501.67,697.78 C503.05,699.85 504.42,700.88 505.80,701.91 C507.17,702.94 508.55,703.46 509.92,703.97 C511.30,704.49 512.68,704.83 514.05,705.01 C515.43,705.18 516.80,705.11 518.18,705.01 C519.55,704.90 520.93,704.73 522.30,704.39 C523.68,704.04 525.06,703.63 526.43,702.94 C527.81,702.25 529.18,701.29 530.56,700.26 C531.93,699.23 533.31,698.02 534.69,696.75 C536.06,695.48 537.18,694.62 538.81,692.62 C540.45,690.63 542.81,687.59 544.51,684.78 C546.21,681.97 547.51,678.77 549.01,675.77 C550.52,672.76 552.02,669.76 553.52,666.75 C555.02,663.75 556.52,661.12 558.03,657.74 C559.53,654.36 561.03,650.23 562.53,646.48 C564.03,642.72 565.54,638.96 567.04,635.21 C568.54,631.45 570.04,626.95 571.55,623.94 C573.05,620.94 574.55,618.69 576.05,617.18 C577.55,615.68 579.24,615.12 580.56,614.93 C581.87,614.74 582.81,614.93 583.94,616.06 C585.07,617.18 586.19,619.25 587.32,621.69 C588.45,624.13 589.57,627.32 590.70,630.70 C591.83,634.08 592.95,638.21 594.08,641.97 C595.21,645.72 596.33,649.48 597.46,653.24 C598.58,656.99 599.52,661.12 600.84,664.50 C602.15,667.88 603.84,671.26 605.34,673.51 C606.85,675.77 608.35,676.89 609.85,678.02 C611.35,679.15 612.86,679.71 614.36,680.27 C615.86,680.84 617.36,681.40 618.86,681.40 C620.37,681.40 621.87,680.91 623.37,680.27 C624.87,679.64 626.38,678.51 627.88,677.57 C629.38,676.63 630.88,675.69 632.38,674.64 C633.89,673.59 635.39,672.58 636.89,671.26 C638.39,669.95 640.08,668.26 641.40,666.75 C642.71,665.25 644.21,663.00 644.78,662.25" fill="none" stroke="#ff0000" stroke-width="1.3" stroke-dasharray="3 2.6"/>
<path d="M422.84,634.43 C423.25,634.16 424.56,633.57 425.32,632.78 C426.07,631.99 426.69,631.06 427.38,629.69 C428.07,628.31 428.59,625.90 429.44,624.53 C430.30,623.15 431.34,622.36 432.54,621.43 C433.74,620.50 435.12,619.64 436.67,618.96 C438.22,618.27 439.93,617.99 441.83,617.30 C443.72,616.62 445.95,615.69 448.02,614.83 C450.08,613.97 452.32,612.83 454.21,612.15 C456.10,611.46 457.82,610.94 459.37,610.70 C460.91,610.46 462.12,610.29 463.49,610.70 C464.87,611.11 466.25,611.91 467.62,613.18 C469.00,614.45 470.37,615.93 471.75,618.34 C473.12,620.74 474.67,624.36 475.87,627.62 C477.08,630.89 477.94,634.16 478.97,637.94 C480.00,641.72 481.03,646.19 482.07,650.32 C483.10,654.45 484.13,658.58 485.16,662.70 C486.19,666.83 487.22,671.30 488.26,675.08 C489.29,678.87 490.32,682.48 491.35,685.40 C492.38,688.33 493.42,690.73 494.45,692.62 C495.48,694.52 496.34,695.79 497.54,696.75 C498.75,697.71 500.29,698.16 501.67,698.40 C503.05,698.64 504.42,698.47 505.80,698.20 C507.17,697.92 508.55,697.51 509.92,696.75 C511.30,696.00 512.68,694.86 514.05,693.66 C515.43,692.45 516.80,691.08 518.18,689.53 C519.55,687.98 520.93,686.43 522.30,684.37 C523.68,682.31 525.06,679.73 526.43,677.15 C527.81,674.57 529.18,671.99 530.56,668.89 C531.93,665.80 533.31,662.36 534.69,658.58 C536.06,654.79 537.61,649.98 538.81,646.19 C540.02,642.41 540.96,638.46 541.91,635.88 C542.86,633.29 543.32,633.82 544.51,630.70 C545.69,627.59 547.51,621.13 549.01,617.18 C550.52,613.24 552.02,609.30 553.52,607.04 C555.02,604.79 556.71,604.23 558.03,603.66 C559.34,603.10 560.28,603.10 561.41,603.66 C562.53,604.23 563.47,604.79 564.79,607.04 C566.10,609.30 567.79,613.24 569.29,617.18 C570.79,621.13 572.30,626.57 573.80,630.70 C575.30,634.83 576.80,638.59 578.31,641.97 C579.81,645.35 581.31,648.54 582.81,650.98 C584.31,653.42 585.82,655.30 587.32,656.62 C588.82,657.93 590.32,658.38 591.83,658.87 C593.33,659.36 594.83,659.54 596.33,659.54 C597.83,659.54 599.34,659.36 600.84,658.87 C602.34,658.38 603.84,657.74 605.34,656.62 C606.85,655.49 608.54,653.53 609.85,652.11 C611.16,650.69 612.65,648.76 613.21,648.10 L615.61,641.85 L617.21,638.64 L618.81,637.84 L619.94,633.83 L621.22,629.03 L622.82,624.22 L624.42,617.81 L626.03,614.60 L627.31,609.79 L628.43,603.38 L630.03,596.97 L631.63,588.96 L633.24,582.55 L634.04,580.15 L634.84,572.94 L635.64,567.33 L636.44,565.72 L638.04,561.72 L638.85,555.31 L639.65,545.69 L640.45,536.08 L641.25,528.06 L642.05,521.65 L642.85,520.05 L643.65,513.64 L644.46,505.63 L645.26,497.62 L645.58,491.21" fill="none" stroke-linejoin="round" stroke="#000" stroke-width="1.25"/>
<text x="582.8" y="587" class="an" textLength="38.3" lengthAdjust="spacingAndGlyphs">Dielectric</text>
<text x="583.2" y="599.5" class="an" textLength="37.9" lengthAdjust="spacingAndGlyphs">relaxation</text>
<line x1="570.6" y1="591.5" x2="648.2" y2="660.5" stroke="#000" stroke-width="1.5"/>
<path d="M652.7,664.5 L645.6,661.9 L649.3,657.8 Z" fill="#000"/>
<path d="M98.99,942.22 C99.49,941.77 100.32,940.67 101.98,939.48 C103.64,938.30 106.63,936.58 108.95,935.12 C111.28,933.67 113.61,932.36 115.93,930.76 C118.26,929.16 120.58,927.27 122.91,925.53 C125.23,923.79 127.56,922.04 129.89,920.30 C132.21,918.55 134.54,916.95 136.86,915.06 C139.19,913.17 141.51,910.99 143.84,908.96 C146.17,906.92 148.49,904.89 150.82,902.85 C153.14,900.82 155.47,898.93 157.79,896.75 C160.12,894.57 162.45,891.95 164.77,889.77 C167.10,887.59 169.42,885.70 171.75,883.67 C174.07,881.63 176.40,879.74 178.73,877.56 C181.05,875.38 183.38,872.76 185.70,870.58 C188.03,868.40 190.35,866.66 192.68,864.48 C195.01,862.30 197.33,859.83 199.66,857.50 C201.98,855.18 204.04,853.55 206.63,850.53 C209.23,847.50 212.93,842.39 215.23,839.37 C217.54,836.34 218.72,834.63 220.47,832.39 C222.21,830.15 223.95,827.97 225.70,825.93 C227.44,823.90 229.19,822.01 230.93,820.18 C232.68,818.35 234.42,816.54 236.16,814.95 C237.91,813.35 239.65,811.89 241.40,810.58 C243.14,809.28 244.89,807.91 246.63,807.10 C248.37,806.28 250.12,805.93 251.86,805.70 C253.61,805.47 255.35,805.53 257.10,805.70 C258.84,805.87 260.58,806.22 262.33,806.75 C264.07,807.27 265.82,808.06 267.56,808.84 C269.31,809.62 271.05,810.44 272.79,811.46 C274.54,812.47 276.28,813.64 278.03,814.95 C279.77,816.25 281.52,817.85 283.26,819.31 C285.00,820.76 286.75,822.21 288.49,823.67 C290.24,825.12 291.98,826.57 293.73,828.03 C295.47,829.48 297.21,830.93 298.96,832.39 C300.70,833.84 302.45,835.15 304.19,836.75 C305.94,838.35 307.68,840.24 309.42,841.98 C311.17,843.73 312.91,845.47 314.66,847.21 C316.40,848.96 318.15,850.70 319.89,852.45 C321.63,854.19 323.44,856.23 325.12,857.68 C326.81,859.13 329.19,860.59 330.01,861.17" fill="none" stroke="#ff00ff" stroke-width="1.3" stroke-dasharray="3.2 1.5 1.1 1.5 1.1 1.5"/>
<path d="M98.99,937.12 C99.05,937.08 98.28,937.49 99.36,936.87 C100.44,936.24 103.29,934.69 105.47,933.38 C107.65,932.07 110.12,930.62 112.44,929.02 C114.77,927.42 117.09,925.67 119.42,923.79 C121.75,921.90 124.07,919.72 126.40,917.68 C128.72,915.65 131.05,913.90 133.37,911.58 C135.70,909.25 138.03,906.34 140.35,903.73 C142.68,901.11 145.00,898.35 147.33,895.88 C149.65,893.41 151.98,891.08 154.31,888.90 C156.63,886.72 158.96,884.54 161.28,882.79 C163.61,881.05 165.93,879.74 168.26,878.43 C170.59,877.13 172.91,876.25 175.24,874.95 C177.56,873.64 179.89,872.04 182.21,870.58 C184.54,869.13 186.87,867.82 189.19,866.22 C191.52,864.62 193.84,862.88 196.17,860.99 C198.49,859.10 200.82,857.07 203.15,854.89 C205.47,852.71 208.11,850.64 210.12,847.91 C212.14,845.18 213.51,841.23 215.23,838.49 C216.96,835.76 218.72,833.70 220.47,831.52 C222.21,829.34 223.95,827.45 225.70,825.41 C227.44,823.38 229.19,821.20 230.93,819.31 C232.68,817.42 234.42,815.67 236.16,814.07 C237.91,812.47 239.65,810.93 241.40,809.71 C243.14,808.49 244.89,807.47 246.63,806.75 C248.37,806.02 250.12,805.64 251.86,805.35 C253.61,805.06 255.35,804.94 257.10,805.00 C258.84,805.06 260.58,805.29 262.33,805.70 C264.07,806.11 265.82,806.78 267.56,807.44 C269.31,808.11 271.05,808.90 272.79,809.71 C274.54,810.53 276.28,811.31 278.03,812.33 C279.77,813.35 281.52,814.51 283.26,815.82 C285.00,817.13 286.75,818.72 288.49,820.18 C290.24,821.63 291.98,823.09 293.73,824.54 C295.47,825.99 297.21,827.45 298.96,828.90 C300.70,830.35 302.45,831.66 304.19,833.26 C305.94,834.86 307.68,836.60 309.42,838.49 C311.17,840.38 312.91,842.71 314.66,844.60 C316.40,846.49 318.15,848.09 319.89,849.83 C321.63,851.58 323.44,853.32 325.12,855.06 C326.81,856.81 329.19,859.42 330.01,860.30" fill="none" stroke="#007a00" stroke-width="1.3" stroke-dasharray="4.2 1.8 1.2 1.8"/>
<path d="M98.99,934.37 C99.05,934.21 98.28,934.13 99.36,933.38 C100.44,932.63 103.29,931.34 105.47,929.89 C107.65,928.44 110.12,926.55 112.44,924.66 C114.77,922.77 117.09,920.73 119.42,918.55 C121.75,916.37 124.22,913.76 126.40,911.58 C128.58,909.39 130.47,907.51 132.50,905.47 C134.54,903.44 136.57,901.55 138.61,899.37 C140.64,897.18 142.68,894.71 144.71,892.39 C146.75,890.06 148.93,887.45 150.82,885.41 C152.71,883.38 154.31,881.78 156.05,880.18 C157.79,878.58 159.25,877.13 161.28,875.82 C163.32,874.51 165.93,873.35 168.26,872.33 C170.59,871.31 172.91,870.73 175.24,869.71 C177.56,868.69 179.89,867.39 182.21,866.22 C184.54,865.06 186.87,864.19 189.19,862.74 C191.52,861.28 193.84,859.25 196.17,857.50 C198.49,855.76 200.82,854.16 203.15,852.27 C205.47,850.38 208.11,848.46 210.12,846.16 C212.14,843.87 213.51,840.93 215.23,838.49 C216.96,836.05 218.72,833.70 220.47,831.52 C222.21,829.34 223.95,827.45 225.70,825.41 C227.44,823.38 229.19,821.20 230.93,819.31 C232.68,817.42 234.42,815.67 236.16,814.07 C237.91,812.47 239.65,811.02 241.40,809.71 C243.14,808.40 244.89,807.18 246.63,806.22 C248.37,805.26 250.12,804.54 251.86,803.96 C253.61,803.37 255.35,803.03 257.10,802.74 C258.84,802.44 260.58,802.30 262.33,802.21 C264.07,802.12 265.82,802.04 267.56,802.21 C269.31,802.39 271.05,802.68 272.79,803.26 C274.54,803.84 276.28,804.77 278.03,805.70 C279.77,806.63 281.52,807.74 283.26,808.84 C285.00,809.94 286.75,810.88 288.49,812.33 C290.24,813.78 291.98,815.67 293.73,817.56 C295.47,819.45 297.21,821.63 298.96,823.67 C300.70,825.70 302.45,827.59 304.19,829.77 C305.94,831.95 307.68,834.57 309.42,836.75 C311.17,838.93 312.91,840.96 314.66,842.85 C316.40,844.74 318.15,846.20 319.89,848.09 C321.63,849.98 323.44,852.59 325.12,854.19 C326.81,855.79 329.19,857.10 330.01,857.68" fill="none" stroke="#2020ff" stroke-width="1.2" stroke-dasharray="1.1 3.6"/>
<path d="M98.99,931.23 C99.05,931.07 98.28,931.10 99.36,930.24 C100.44,929.38 103.29,927.71 105.47,926.05 C107.65,924.40 110.12,922.42 112.44,920.30 C114.77,918.17 117.09,915.79 119.42,913.32 C121.75,910.85 124.22,908.09 126.40,905.47 C128.58,902.85 130.47,900.24 132.50,897.62 C134.54,895.00 136.57,892.39 138.61,889.77 C140.64,887.16 142.82,884.19 144.71,881.92 C146.60,879.65 148.20,877.62 149.95,876.17 C151.69,874.71 153.29,873.90 155.18,873.20 C157.07,872.50 159.10,872.42 161.28,871.98 C163.46,871.54 165.93,871.25 168.26,870.58 C170.59,869.92 172.91,868.78 175.24,867.97 C177.56,867.15 179.89,866.72 182.21,865.70 C184.54,864.68 186.87,863.32 189.19,861.86 C191.52,860.41 193.84,858.72 196.17,856.98 C198.49,855.23 200.82,853.49 203.15,851.40 C205.47,849.30 208.11,846.86 210.12,844.42 C212.14,841.98 213.51,839.19 215.23,836.75 C216.96,834.31 218.72,832.10 220.47,829.77 C222.21,827.45 223.95,825.12 225.70,822.79 C227.44,820.47 229.19,818.00 230.93,815.82 C232.68,813.64 234.42,811.60 236.16,809.71 C237.91,807.82 239.65,806.08 241.40,804.48 C243.14,802.88 244.89,801.57 246.63,800.12 C248.37,798.67 250.12,797.07 251.86,795.76 C253.61,794.45 255.35,793.14 257.10,792.27 C258.84,791.40 260.58,790.96 262.33,790.53 C264.07,790.09 265.82,789.65 267.56,789.65 C269.31,789.65 271.05,789.94 272.79,790.53 C274.54,791.11 276.28,791.98 278.03,793.14 C279.77,794.30 281.52,795.76 283.26,797.50 C285.00,799.25 286.75,801.43 288.49,803.61 C290.24,805.79 291.98,808.26 293.73,810.58 C295.47,812.91 297.21,815.24 298.96,817.56 C300.70,819.89 302.45,822.21 304.19,824.54 C305.94,826.86 307.68,829.34 309.42,831.52 C311.17,833.70 312.91,835.73 314.66,837.62 C316.40,839.51 318.15,841.11 319.89,842.85 C321.63,844.60 323.44,846.63 325.12,848.09 C326.81,849.54 329.19,850.99 330.01,851.58" fill="none" stroke="#ff0000" stroke-width="1.3" stroke-dasharray="3 2.6"/>
<path d="M98.99,926.52 C99.05,926.50 98.28,927.29 99.36,926.40 C100.44,925.51 103.29,923.06 105.47,921.17 C107.65,919.28 110.12,917.24 112.44,915.06 C114.77,912.88 117.24,910.41 119.42,908.09 C121.60,905.76 123.49,903.58 125.53,901.11 C127.56,898.64 129.60,896.02 131.63,893.26 C133.67,890.50 135.70,887.30 137.74,884.54 C139.77,881.78 141.95,878.87 143.84,876.69 C145.73,874.51 147.18,872.68 149.07,871.46 C150.96,870.24 153.14,869.80 155.18,869.36 C157.21,868.93 159.10,868.99 161.28,868.84 C163.46,868.69 165.93,868.72 168.26,868.49 C170.59,868.26 172.91,868.03 175.24,867.44 C177.56,866.86 179.89,865.93 182.21,865.00 C184.54,864.07 186.87,863.20 189.19,861.86 C191.52,860.53 193.84,858.87 196.17,856.98 C198.49,855.09 200.82,853.05 203.15,850.53 C205.47,848.00 208.11,844.68 210.12,841.80 C212.14,838.93 213.51,836.14 215.23,833.26 C216.96,830.38 218.72,827.45 220.47,824.54 C222.21,821.63 223.95,818.87 225.70,815.82 C227.44,812.76 229.19,809.28 230.93,806.22 C232.68,803.17 234.42,800.26 236.16,797.50 C237.91,794.74 239.65,791.98 241.40,789.65 C243.14,787.33 244.89,785.15 246.63,783.55 C248.37,781.95 250.12,780.93 251.86,780.06 C253.61,779.19 255.35,778.66 257.10,778.32 C258.84,777.97 260.58,777.88 262.33,777.97 C264.07,778.05 265.82,778.29 267.56,778.84 C269.31,779.39 271.05,780.20 272.79,781.28 C274.54,782.36 276.28,783.75 278.03,785.29 C279.77,786.83 281.52,788.64 283.26,790.53 C285.00,792.41 286.75,794.45 288.49,796.63 C290.24,798.81 291.98,801.28 293.73,803.61 C295.47,805.93 297.21,808.26 298.96,810.58 C300.70,812.91 302.45,815.24 304.19,817.56 C305.94,819.89 307.68,822.36 309.42,824.54 C311.17,826.72 312.91,828.61 314.66,830.64 C316.40,832.68 318.15,835.00 319.89,836.75 C321.63,838.49 323.44,839.95 325.12,841.11 C326.81,842.27 329.19,843.29 330.01,843.73" fill="none" stroke="#000" stroke-width="1.25"/>
<line x1="289.9" y1="893.0" x2="306.5" y2="893.0" stroke="#000" stroke-width="1.25"/>
<text x="309.1" y="896.3" class="lg">0.1 kHz</text>
<line x1="289.9" y1="905.0" x2="306.5" y2="905.0" stroke="#ff0000" stroke-width="1.3" stroke-dasharray="3 2.6"/>
<text x="309.1" y="908.3" class="lg">1 kHz</text>
<text x="309.1" y="918.8" class="lg">10 kHz</text>
<line x1="289.9" y1="928.2" x2="306.5" y2="928.2" stroke="#007a00" stroke-width="1.3" stroke-dasharray="4.2 1.8 1.2 1.8"/>
<text x="309.1" y="931.5" class="lg">100 kHz</text>
<line x1="289.9" y1="939.8" x2="306.5" y2="939.8" stroke="#ff00ff" stroke-width="1.3" stroke-dasharray="3.2 1.5 1.1 1.5 1.1 1.5"/>
<text x="309.1" y="943.1" class="lg">1000 kHz</text>
<line x1="257.5" y1="857.0" x2="257.5" y2="817.3" stroke="#000" stroke-width="1.2"/>
<path d="M257.5,811.3 L260.1,818.3 L254.9,818.3 Z" fill="#000"/>
<text x="241" y="868.5" class="an" textLength="50.3" lengthAdjust="spacingAndGlyphs">T<tspan dy="3.6" style="font-size:11px">m</tspan><tspan dy="-3.6"> = 320 &#176;C</tspan></text>
<text x="310.5" y="755" class="an" textLength="38.5" lengthAdjust="spacingAndGlyphs">Dielectric</text>
<text x="310.5" y="767.5" class="an" textLength="38.5" lengthAdjust="spacingAndGlyphs">relaxation</text>
<line x1="303.3" y1="764.4" x2="288.4" y2="780.7" stroke="#000" stroke-width="1.0"/>
<path d="M285.0,784.4 L287.4,778.4 L290.7,781.5 Z" fill="#000"/>
<path d="M417.46,799.08 C418.42,798.40 421.22,796.52 423.20,794.98 C425.18,793.45 427.30,791.57 429.35,789.86 C431.40,788.15 433.45,786.51 435.50,784.73 C437.55,782.95 439.61,781.01 441.66,779.20 C443.71,777.38 445.76,775.68 447.81,773.86 C449.86,772.05 452.08,770.04 453.96,768.33 C455.84,766.62 457.55,764.88 459.08,763.61 C460.62,762.35 461.99,761.32 463.19,760.74 C464.38,760.16 465.06,759.89 466.26,760.13 C467.46,760.37 468.99,761.15 470.36,762.18 C471.73,763.20 473.10,764.57 474.46,766.28 C475.83,767.99 477.20,770.04 478.56,772.43 C479.93,774.82 481.30,777.55 482.66,780.63 C484.03,783.71 485.40,787.29 486.77,790.88 C488.13,794.47 489.50,798.06 490.87,802.16 C492.23,806.26 493.60,811.05 494.97,815.49 C496.33,819.93 497.70,824.20 499.07,828.82 C500.44,833.43 501.80,838.38 503.17,843.17 C504.54,847.95 505.90,852.74 507.27,857.52 C508.64,862.31 510.00,867.43 511.37,871.88 C512.74,876.32 514.10,880.42 515.47,884.18 C516.84,887.94 518.21,891.01 519.57,894.43 C520.94,897.85 522.14,901.44 523.67,904.68 C525.21,907.93 527.09,911.18 528.80,913.91 C530.51,916.64 532.22,918.86 533.93,921.09 C535.63,923.31 537.36,925.86 539.05,927.24 C540.75,928.61 542.58,928.29 544.10,929.32 C545.63,930.35 546.84,932.06 548.20,933.42 C549.57,934.79 550.94,936.16 552.31,937.53 C553.67,938.89 555.04,940.43 556.41,941.63 C557.77,942.82 558.80,943.75 560.51,944.70 C562.22,945.66 564.61,946.79 566.66,947.37 C568.71,947.95 570.76,948.05 572.81,948.19 C574.86,948.33 576.92,948.33 578.97,948.19 C581.02,948.05 583.07,947.95 585.12,947.37 C587.17,946.79 589.22,945.83 591.27,944.70 C593.32,943.58 595.37,942.31 597.42,940.60 C599.47,938.89 601.53,936.84 603.58,934.45 C605.63,932.06 607.68,928.81 609.73,926.25 C611.78,923.68 614.00,921.12 615.88,919.07 C617.76,917.02 619.30,915.04 621.01,913.94 C622.72,912.85 624.60,912.51 626.14,912.51 C627.67,912.51 628.87,913.19 630.24,913.94 C631.61,914.69 632.97,915.82 634.34,917.02 C635.71,918.21 637.07,919.75 638.44,921.12 C639.81,922.49 641.18,923.85 642.54,925.22 C643.91,926.59 645.69,928.30 646.64,929.32 C647.60,930.35 648.01,931.03 648.29,931.37" fill="none" stroke="#ff00ff" stroke-width="1.3" stroke-dasharray="3.2 1.5 1.1 1.5 1.1 1.5"/>
<path d="M417.46,827.18 C418.42,826.59 421.22,824.95 423.20,823.69 C425.18,822.43 427.30,820.96 429.35,819.59 C431.40,818.22 433.45,817.03 435.50,815.49 C437.55,813.95 439.61,811.97 441.66,810.36 C443.71,808.76 445.76,807.39 447.81,805.85 C449.86,804.31 452.08,802.37 453.96,801.13 C455.84,799.90 457.55,798.91 459.08,798.47 C460.62,798.03 461.82,798.03 463.19,798.47 C464.55,798.91 465.92,799.67 467.29,801.13 C468.65,802.60 470.02,804.72 471.39,807.29 C472.75,809.85 474.12,812.92 475.49,816.51 C476.85,820.10 478.22,824.37 479.59,828.82 C480.96,833.26 482.32,837.70 483.69,843.17 C485.06,848.64 486.42,855.81 487.79,861.62 C489.16,867.43 490.52,872.56 491.89,878.03 C493.26,883.49 494.63,889.30 495.99,894.43 C497.36,899.56 498.56,904.00 500.09,908.78 C501.63,913.57 503.51,919.04 505.22,923.14 C506.93,927.24 508.64,930.48 510.35,933.39 C512.05,936.29 513.76,938.58 515.47,940.56 C517.18,942.55 518.72,944.02 520.60,945.28 C522.48,946.55 524.53,947.40 526.75,948.15 C528.97,948.90 531.70,949.42 533.93,949.79 C536.15,950.17 538.04,950.16 540.08,950.41 C542.11,950.65 544.11,951.12 546.15,951.27 C548.19,951.41 550.25,951.34 552.31,951.27 C554.36,951.20 556.41,951.16 558.46,950.86 C560.51,950.55 562.56,949.93 564.61,949.42 C566.66,948.91 568.71,948.57 570.76,947.78 C572.81,946.99 574.86,946.07 576.92,944.70 C578.97,943.34 581.02,941.80 583.07,939.58 C585.12,937.36 587.17,934.79 589.22,931.37 C591.27,927.96 593.32,922.83 595.37,919.07 C597.42,915.31 599.82,911.28 601.53,908.81 C603.23,906.35 604.26,905.26 605.63,904.30 C606.99,903.35 608.36,903.00 609.73,903.07 C611.10,903.14 612.46,903.58 613.83,904.71 C615.20,905.84 616.57,907.79 617.93,909.84 C619.30,911.89 620.67,914.45 622.03,917.02 C623.40,919.58 624.77,922.83 626.14,925.22 C627.50,927.61 628.87,929.67 630.24,931.37 C631.61,933.08 632.97,934.28 634.34,935.48 C635.71,936.67 637.07,937.70 638.44,938.55 C639.81,939.41 640.90,940.09 642.54,940.60 C644.18,941.12 647.33,941.46 648.29,941.63" fill="none" stroke="#007a00" stroke-width="1.3" stroke-dasharray="4.2 1.8 1.2 1.8"/>
<path d="M418.69,845.22 C419.78,844.54 423.13,842.49 425.25,841.12 C427.37,839.75 429.35,838.32 431.40,837.02 C433.45,835.72 435.50,834.69 437.55,833.33 C439.61,831.96 441.66,830.08 443.71,828.82 C445.76,827.55 447.98,826.66 449.86,825.74 C451.74,824.82 453.27,823.62 454.98,823.28 C456.69,822.94 458.40,822.94 460.11,823.69 C461.82,824.44 463.70,825.57 465.24,827.79 C466.77,830.01 467.97,833.43 469.34,837.02 C470.70,840.61 472.07,844.88 473.44,849.32 C474.80,853.76 476.17,858.55 477.54,863.67 C478.91,868.80 480.27,874.95 481.64,880.08 C483.01,885.20 484.37,889.65 485.74,894.43 C487.11,899.21 488.47,904.34 489.84,908.78 C491.21,913.23 492.58,917.33 493.94,921.09 C495.31,924.84 496.68,928.43 498.04,931.34 C499.41,934.24 500.61,936.46 502.14,938.51 C503.68,940.56 505.39,942.10 507.27,943.64 C509.15,945.18 511.03,946.72 513.42,947.74 C515.81,948.77 518.89,949.28 521.62,949.79 C524.36,950.30 527.09,950.54 529.82,950.82 C532.56,951.09 535.31,951.77 538.03,951.43 C540.75,951.10 543.77,949.59 546.15,948.81 C548.53,948.03 550.25,947.78 552.31,946.76 C554.36,945.73 556.41,944.19 558.46,942.65 C560.51,941.12 562.56,939.58 564.61,937.53 C566.66,935.48 569.05,932.74 570.76,930.35 C572.47,927.96 573.50,925.73 574.86,923.17 C576.23,920.61 577.60,917.87 578.97,914.97 C580.33,912.06 581.70,908.47 583.07,905.74 C584.44,903.00 585.80,900.44 587.17,898.56 C588.54,896.68 589.73,895.42 591.27,894.46 C592.81,893.50 594.69,892.48 596.40,892.82 C598.11,893.16 599.99,894.87 601.53,896.51 C603.06,898.15 604.26,900.27 605.63,902.66 C606.99,905.05 608.36,908.13 609.73,910.87 C611.10,913.60 612.46,916.68 613.83,919.07 C615.20,921.46 616.57,923.51 617.93,925.22 C619.30,926.93 620.67,928.30 622.03,929.32 C623.40,930.35 624.77,930.96 626.14,931.37 C627.50,931.78 628.87,931.78 630.24,931.78 C631.61,931.78 632.97,931.61 634.34,931.37 C635.71,931.13 637.07,930.86 638.44,930.35 C639.81,929.84 640.90,929.15 642.54,928.30 C644.18,927.44 647.33,925.73 648.29,925.22" fill="none" stroke="#2020ff" stroke-width="1.2" stroke-dasharray="1.1 3.6"/>
<path d="M417.46,857.11 C418.25,856.50 420.54,854.55 422.18,853.42 C423.82,852.29 425.42,851.37 427.30,850.35 C429.18,849.32 431.40,848.40 433.45,847.27 C435.50,846.14 437.55,844.67 439.61,843.58 C441.66,842.49 443.88,841.53 445.76,840.71 C447.64,839.89 449.17,839.10 450.88,838.66 C452.59,838.21 454.64,837.80 456.01,838.04 C457.38,838.28 458.06,838.90 459.08,840.09 C460.11,841.29 460.96,842.66 462.16,845.22 C463.36,847.78 464.89,851.37 466.26,855.47 C467.63,859.57 468.99,864.70 470.36,869.82 C471.73,874.95 473.10,880.76 474.46,886.23 C475.83,891.70 477.20,897.16 478.56,902.63 C479.93,908.10 481.30,914.25 482.66,919.04 C484.03,923.82 485.40,927.92 486.77,931.34 C488.13,934.76 489.33,937.15 490.87,939.54 C492.40,941.93 494.28,944.15 495.99,945.69 C497.70,947.23 499.24,948.08 501.12,948.77 C503.00,949.45 505.22,949.62 507.27,949.79 C509.32,949.96 511.37,949.96 513.42,949.79 C515.47,949.62 517.52,949.28 519.57,948.77 C521.62,948.25 523.67,947.74 525.72,946.72 C527.77,945.69 529.82,944.15 531.88,942.62 C533.93,941.08 535.99,939.70 538.03,937.49 C540.06,935.27 542.41,932.05 544.10,929.32 C545.80,926.59 546.84,923.85 548.20,921.12 C549.57,918.39 550.94,915.65 552.31,912.92 C553.67,910.18 555.04,907.45 556.41,904.71 C557.77,901.98 559.14,899.24 560.51,896.51 C561.88,893.77 563.24,891.04 564.61,888.31 C565.98,885.57 567.34,882.67 568.71,880.10 C570.08,877.54 571.45,874.70 572.81,872.92 C574.18,871.15 575.72,870.02 576.92,869.44 C578.11,868.86 578.97,868.86 579.99,869.44 C581.02,870.02 581.87,870.98 583.07,872.92 C584.26,874.87 585.80,878.22 587.17,881.13 C588.54,884.03 589.90,887.45 591.27,890.36 C592.64,893.26 594.01,895.83 595.37,898.56 C596.74,901.29 598.11,904.37 599.47,906.76 C600.84,909.16 602.21,911.55 603.58,912.92 C604.94,914.28 606.31,914.56 607.68,914.97 C609.05,915.38 610.41,915.55 611.78,915.38 C613.15,915.21 614.51,914.52 615.88,913.94 C617.25,913.36 618.62,912.75 619.98,911.89 C621.35,911.04 622.72,910.18 624.09,908.81 C625.45,907.45 626.82,905.40 628.19,903.69 C629.55,901.98 630.92,900.44 632.29,898.56 C633.66,896.68 635.02,894.63 636.39,892.41 C637.76,890.19 639.12,887.62 640.49,885.23 C641.86,882.84 643.30,880.44 644.59,878.05 C645.89,875.66 647.67,872.07 648.29,870.87" fill="none" stroke="#ff0000" stroke-width="1.3" stroke-dasharray="3 2.6"/>
<path d="M417.46,861.21 C417.90,861.55 419.17,863.19 420.13,863.26 C421.08,863.33 422.01,862.24 423.20,861.62 C424.40,861.01 425.76,860.32 427.30,859.57 C428.84,858.82 430.72,857.97 432.43,857.11 C434.14,856.26 435.85,855.40 437.55,854.45 C439.26,853.49 440.97,852.40 442.68,851.37 C444.39,850.35 446.34,848.91 447.81,848.30 C449.28,847.68 450.30,847.34 451.50,847.68 C452.69,848.02 453.72,848.71 454.98,850.35 C456.25,851.99 457.72,854.62 459.08,857.52 C460.45,860.43 461.82,863.67 463.19,867.77 C464.55,871.88 465.92,877.00 467.29,882.13 C468.65,887.25 470.02,893.06 471.39,898.53 C472.75,904.00 474.12,909.81 475.49,914.93 C476.85,920.06 478.22,925.36 479.59,929.29 C480.96,933.22 482.32,936.29 483.69,938.51 C485.06,940.74 486.25,941.59 487.79,942.62 C489.33,943.64 491.21,944.32 492.92,944.67 C494.63,945.01 496.33,945.01 498.04,944.67 C499.75,944.32 501.46,943.47 503.17,942.62 C504.88,941.76 506.59,940.74 508.30,939.54 C510.00,938.34 511.71,936.98 513.42,935.44 C515.13,933.90 516.84,932.36 518.55,930.31 C520.26,928.26 521.96,925.87 523.67,923.14 C525.38,920.40 527.09,917.33 528.80,913.91 C530.51,910.49 532.22,906.73 533.93,902.63 C535.63,898.53 537.36,894.08 539.05,889.30 C540.75,884.52 542.58,878.22 544.10,873.95 C545.63,869.68 546.84,866.43 548.20,863.70 C549.57,860.96 550.94,858.84 552.31,857.54 C553.67,856.24 555.04,855.90 556.41,855.90 C557.77,855.90 559.14,856.42 560.51,857.54 C561.88,858.67 563.24,860.62 564.61,862.67 C565.98,864.72 567.34,867.28 568.71,869.85 C570.08,872.41 571.45,875.49 572.81,878.05 C574.18,880.62 575.55,883.35 576.92,885.23 C578.28,887.11 579.65,888.31 581.02,889.33 C582.38,890.36 583.58,890.94 585.12,891.38 C586.66,891.83 588.54,891.96 590.25,892.00 C591.96,892.03 593.66,891.86 595.37,891.59 C597.08,891.31 599.26,890.61 600.50,890.36 C601.74,890.10 602.42,890.10 602.80,890.05 L607.01,884.59 L609.81,880.38 L612.62,876.88 L614.72,874.77 L616.12,870.57 L617.52,866.36 L618.93,862.86 L621.03,862.15 L622.15,860.75 L622.43,856.55 L623.13,850.94 L624.53,854.44 L625.23,848.14 L626.64,842.53 L627.34,839.72 L628.04,846.73 L628.74,842.53 L629.44,838.32 L630.84,839.72 L632.24,835.52 L633.65,829.91 L634.35,825.70 L635.05,828.51 L635.75,822.90 L636.73,820.10 L637.15,814.49 L637.85,808.88 L638.55,803.27 L638.97,799.07 L639.53,806.08 L639.96,797.67 L640.66,793.46 L641.36,787.85 L642.06,783.65 L642.76,785.05 L643.46,782.24 L644.16,778.04 L644.86,775.23 L645.56,782.24 L646.26,772.43 L646.96,768.23 L647.67,762.62 L648.37,756.31" fill="none" stroke-linejoin="round" stroke="#000" stroke-width="1.25"/>
<text x="575.2" y="829" class="an" textLength="38.2" lengthAdjust="spacingAndGlyphs">Dielectric</text>
<text x="574.9" y="841" class="an" textLength="38.5" lengthAdjust="spacingAndGlyphs">relaxation</text>
<line x1="570.8" y1="843.6" x2="649.2" y2="910.0" stroke="#000" stroke-width="1.5"/>
<path d="M653.8,913.9 L646.6,911.5 L650.3,907.2 Z" fill="#000"/>
</svg></body></html>
